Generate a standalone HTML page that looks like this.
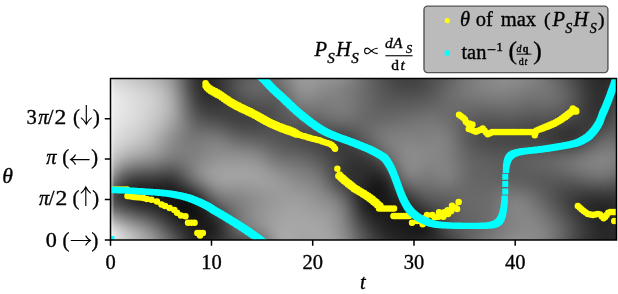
<!DOCTYPE html>
<html><head><meta charset="utf-8"><style>
html,body{margin:0;padding:0;background:#fff;width:618px;height:294px;overflow:hidden;position:relative}
svg{display:block;position:absolute;left:0;top:0;will-change:transform}
#hc{position:absolute;left:111px;top:79px;width:505px;height:161px;overflow:hidden}
#hi{position:absolute;left:-7px;top:-7px;width:520px;height:176px;display:flex;filter:blur(1.6px)}
#hi i{display:block;flex:0 0 4px;height:100%}
text{font-family:"Liberation Serif",serif;stroke:#000;stroke-width:0.35px}
</style></head><body>
<div id="hc"><div id="hi"><i style="background:linear-gradient(#d7d7d7 0px,#d7d7d7 6px,#dfdfdf 12px,#e8e8e8 18px,#ededed 24px,#efefef 30px,#eeeeee 36px,#ededed 42px,#ebebeb 48px,#e8e8e8 54px,#e5e5e5 60px,#e2e2e2 66px,#dddddd 72px,#d6d6d6 78px,#cdcdcd 84px,#c2c2c2 90px,#b2b2b2 96px,#9f9f9f 102px,#888888 108px,#6e6e6e 114px,#585858 120px,#505050 126px,#5a5a5a 132px,#747474 138px,#989898 144px,#bcbcbc 150px,#dadada 156px,#ececec 162px,#ebebeb 168px,#ebebeb 174px)"></i><i style="background:linear-gradient(#d7d7d7 0px,#d7d7d7 6px,#dfdfdf 12px,#e8e8e8 18px,#ededed 24px,#efefef 30px,#eeeeee 36px,#ededed 42px,#ebebeb 48px,#e8e8e8 54px,#e5e5e5 60px,#e2e2e2 66px,#dddddd 72px,#d6d6d6 78px,#cdcdcd 84px,#c2c2c2 90px,#b2b2b2 96px,#9f9f9f 102px,#888888 108px,#6e6e6e 114px,#585858 120px,#505050 126px,#5a5a5a 132px,#747474 138px,#989898 144px,#bcbcbc 150px,#dadada 156px,#ececec 162px,#ebebeb 168px,#ebebeb 174px)"></i><i style="background:linear-gradient(#d5d5d5 0px,#d5d5d5 6px,#dddddd 12px,#e5e5e5 18px,#eaeaea 24px,#ececec 30px,#ececec 36px,#ebebeb 42px,#e9e9e9 48px,#e6e6e6 54px,#e3e3e3 60px,#dfdfdf 66px,#dadada 72px,#d2d2d2 78px,#c8c8c8 84px,#bababa 90px,#a8a8a8 96px,#939393 102px,#7b7b7b 108px,#636363 114px,#505050 120px,#494949 126px,#555555 132px,#6f6f6f 138px,#929292 144px,#b6b6b6 150px,#d4d4d4 156px,#e6e6e6 162px,#e6e6e6 168px,#e6e6e6 174px)"></i><i style="background:linear-gradient(#d2d2d2 0px,#d2d2d2 6px,#d9d9d9 12px,#e1e1e1 18px,#e6e6e6 24px,#e9e9e9 30px,#e9e9e9 36px,#e8e8e8 42px,#e5e5e5 48px,#e3e3e3 54px,#dfdfdf 60px,#dadada 66px,#d4d4d4 72px,#cbcbcb 78px,#bfbfbf 84px,#aeaeae 90px,#989898 96px,#808080 102px,#676767 108px,#515151 114px,#414141 120px,#3e3e3e 126px,#4c4c4c 132px,#666666 138px,#888888 144px,#aaaaaa 150px,#c8c8c8 156px,#dadada 162px,#dddddd 168px,#dddddd 174px)"></i><i style="background:linear-gradient(#cfcfcf 0px,#cfcfcf 6px,#d6d6d6 12px,#dedede 18px,#e3e3e3 24px,#e5e5e5 30px,#e6e6e6 36px,#e4e4e4 42px,#e2e2e2 48px,#dfdfdf 54px,#dbdbdb 60px,#d6d6d6 66px,#cfcfcf 72px,#c5c5c5 78px,#b7b7b7 84px,#a3a3a3 90px,#8b8b8b 96px,#707070 102px,#575757 108px,#424242 114px,#363636 120px,#353535 126px,#444444 132px,#5e5e5e 138px,#7e7e7e 144px,#a0a0a0 150px,#bdbdbd 156px,#d0d0d0 162px,#d5d5d5 168px,#d5d5d5 174px)"></i><i style="background:linear-gradient(#cccccc 0px,#cccccc 6px,#d3d3d3 12px,#dbdbdb 18px,#e0e0e0 24px,#e2e2e2 30px,#e3e3e3 36px,#e1e1e1 42px,#dfdfdf 48px,#dcdcdc 54px,#d8d8d8 60px,#d3d3d3 66px,#cbcbcb 72px,#c0c0c0 78px,#b1b1b1 84px,#9b9b9b 90px,#818181 96px,#656565 102px,#4c4c4c 108px,#383838 114px,#2d2d2d 120px,#2e2e2e 126px,#3d3d3d 132px,#565656 138px,#767676 144px,#979797 150px,#b4b4b4 156px,#c7c7c7 162px,#cdcdcd 168px,#cdcdcd 174px)"></i><i style="background:linear-gradient(#c9c9c9 0px,#c9c9c9 6px,#d0d0d0 12px,#d8d8d8 18px,#dddddd 24px,#e0e0e0 30px,#e0e0e0 36px,#dfdfdf 42px,#dcdcdc 48px,#d9d9d9 54px,#d5d5d5 60px,#cfcfcf 66px,#c7c7c7 72px,#bcbcbc 78px,#acacac 84px,#959595 90px,#7a7a7a 96px,#5d5d5d 102px,#444444 108px,#303030 114px,#262626 120px,#282828 126px,#373737 132px,#505050 138px,#6f6f6f 144px,#8f8f8f 150px,#ababab 156px,#bebebe 162px,#c5c5c5 168px,#c5c5c5 174px)"></i><i style="background:linear-gradient(#c6c6c6 0px,#c6c6c6 6px,#cdcdcd 12px,#d6d6d6 18px,#dbdbdb 24px,#dddddd 30px,#dddddd 36px,#dcdcdc 42px,#d9d9d9 48px,#d6d6d6 54px,#d2d2d2 60px,#cccccc 66px,#c3c3c3 72px,#b8b8b8 78px,#a7a7a7 84px,#909090 90px,#757575 96px,#585858 102px,#3e3e3e 108px,#2c2c2c 114px,#222222 120px,#232323 126px,#313131 132px,#4a4a4a 138px,#686868 144px,#878787 150px,#a3a3a3 156px,#b6b6b6 162px,#bdbdbd 168px,#bdbdbd 174px)"></i><i style="background:linear-gradient(#c3c3c3 0px,#c3c3c3 6px,#cbcbcb 12px,#d3d3d3 18px,#d8d8d8 24px,#dadada 30px,#dadada 36px,#d9d9d9 42px,#d6d6d6 48px,#d3d3d3 54px,#cecece 60px,#c8c8c8 66px,#c0c0c0 72px,#b4b4b4 78px,#a3a3a3 84px,#8d8d8d 90px,#717171 96px,#555555 102px,#3c3c3c 108px,#292929 114px,#1f1f1f 120px,#1f1f1f 126px,#2d2d2d 132px,#444444 138px,#616161 144px,#808080 150px,#9b9b9b 156px,#aeaeae 162px,#b6b6b6 168px,#b6b6b6 174px)"></i><i style="background:linear-gradient(#c0c0c0 0px,#c0c0c0 6px,#c8c8c8 12px,#d0d0d0 18px,#d5d5d5 24px,#d7d7d7 30px,#d7d7d7 36px,#d6d6d6 42px,#d3d3d3 48px,#cfcfcf 54px,#cacaca 60px,#c4c4c4 66px,#bbbbbb 72px,#b0b0b0 78px,#a0a0a0 84px,#8a8a8a 90px,#6f6f6f 96px,#535353 102px,#3a3a3a 108px,#272727 114px,#1d1d1d 120px,#1d1d1d 126px,#292929 132px,#3f3f3f 138px,#5b5b5b 144px,#787878 150px,#929292 156px,#a6a6a6 162px,#aeaeae 168px,#aeaeae 174px)"></i><i style="background:linear-gradient(#bdbdbd 0px,#bdbdbd 6px,#c5c5c5 12px,#cdcdcd 18px,#d2d2d2 24px,#d4d4d4 30px,#d4d4d4 36px,#d2d2d2 42px,#cfcfcf 48px,#cbcbcb 54px,#c6c6c6 60px,#bfbfbf 66px,#b7b7b7 72px,#acacac 78px,#9c9c9c 84px,#878787 90px,#6d6d6d 96px,#525252 102px,#393939 108px,#272727 114px,#1c1c1c 120px,#1b1b1b 126px,#262626 132px,#3a3a3a 138px,#555555 144px,#707070 150px,#8a8a8a 156px,#9d9d9d 162px,#a6a6a6 168px,#a6a6a6 174px)"></i><i style="background:linear-gradient(#b9b9b9 0px,#b9b9b9 6px,#c1c1c1 12px,#cacaca 18px,#cfcfcf 24px,#d1d1d1 30px,#d1d1d1 36px,#cecece 42px,#cbcbcb 48px,#c6c6c6 54px,#c1c1c1 60px,#bababa 66px,#b2b2b2 72px,#a7a7a7 78px,#989898 84px,#848484 90px,#6b6b6b 96px,#515151 102px,#393939 108px,#262626 114px,#1b1b1b 120px,#191919 126px,#232323 132px,#363636 138px,#4e4e4e 144px,#686868 150px,#818181 156px,#949494 162px,#9d9d9d 168px,#9d9d9d 174px)"></i><i style="background:linear-gradient(#b5b5b5 0px,#b5b5b5 6px,#bdbdbd 12px,#c5c5c5 18px,#cacaca 24px,#cdcdcd 30px,#cccccc 36px,#cacaca 42px,#c6c6c6 48px,#c1c1c1 54px,#bbbbbb 60px,#b4b4b4 66px,#acacac 72px,#a2a2a2 78px,#949494 84px,#818181 90px,#696969 96px,#4f4f4f 102px,#383838 108px,#262626 114px,#1a1a1a 120px,#181818 126px,#202020 132px,#313131 138px,#474747 144px,#5f5f5f 150px,#767676 156px,#898989 162px,#949494 168px,#949494 174px)"></i><i style="background:linear-gradient(#b0b0b0 0px,#b0b0b0 6px,#b8b8b8 12px,#c0c0c0 18px,#c5c5c5 24px,#c8c8c8 30px,#c7c7c7 36px,#c5c5c5 42px,#c1c1c1 48px,#bbbbbb 54px,#b4b4b4 60px,#acacac 66px,#a5a5a5 72px,#9c9c9c 78px,#8f8f8f 84px,#7d7d7d 90px,#666666 96px,#4d4d4d 102px,#363636 108px,#252525 114px,#1a1a1a 120px,#171717 126px,#1e1e1e 132px,#2c2c2c 138px,#3f3f3f 144px,#555555 150px,#6b6b6b 156px,#7e7e7e 162px,#898989 168px,#898989 174px)"></i><i style="background:linear-gradient(#aaaaaa 0px,#aaaaaa 6px,#b1b1b1 12px,#bababa 18px,#bfbfbf 24px,#c1c1c1 30px,#c1c1c1 36px,#bfbfbf 42px,#bababa 48px,#b4b4b4 54px,#acacac 60px,#a4a4a4 66px,#9d9d9d 72px,#959595 78px,#8a8a8a 84px,#787878 90px,#626262 96px,#4b4b4b 102px,#353535 108px,#242424 114px,#191919 120px,#161616 126px,#1b1b1b 132px,#272727 138px,#383838 144px,#4b4b4b 150px,#5f5f5f 156px,#727272 162px,#7e7e7e 168px,#7e7e7e 174px)"></i><i style="background:linear-gradient(#a3a3a3 0px,#a3a3a3 6px,#a9a9a9 12px,#b1b1b1 18px,#b6b6b6 24px,#b9b9b9 30px,#bababa 36px,#b7b7b7 42px,#b3b3b3 48px,#acacac 54px,#a4a4a4 60px,#9c9c9c 66px,#969696 72px,#8f8f8f 78px,#858585 84px,#757575 90px,#606060 96px,#494949 102px,#343434 108px,#242424 114px,#191919 120px,#151515 126px,#191919 132px,#222222 138px,#303030 144px,#414141 150px,#535353 156px,#656565 162px,#737373 168px,#737373 174px)"></i><i style="background:linear-gradient(#999999 0px,#999999 6px,#9f9f9f 12px,#a6a6a6 18px,#acacac 24px,#afafaf 30px,#b0b0b0 36px,#aeaeae 42px,#aaaaaa 48px,#a3a3a3 54px,#9b9b9b 60px,#949494 66px,#8f8f8f 72px,#898989 78px,#808080 84px,#727272 90px,#5f5f5f 96px,#494949 102px,#353535 108px,#252525 114px,#1a1a1a 120px,#151515 126px,#161616 132px,#1d1d1d 138px,#292929 144px,#373737 150px,#484848 156px,#595959 162px,#676767 168px,#676767 174px)"></i><i style="background:linear-gradient(#8c8c8c 0px,#8c8c8c 6px,#919191 12px,#989898 18px,#9e9e9e 24px,#a2a2a2 30px,#a3a3a3 36px,#a3a3a3 42px,#9f9f9f 48px,#9a9a9a 54px,#939393 60px,#8d8d8d 66px,#888888 72px,#848484 78px,#7d7d7d 84px,#717171 90px,#606060 96px,#4c4c4c 102px,#393939 108px,#282828 114px,#1c1c1c 120px,#151515 126px,#141414 132px,#191919 138px,#222222 144px,#2f2f2f 150px,#3d3d3d 156px,#4d4d4d 162px,#5a5a5a 168px,#5a5a5a 174px)"></i><i style="background:linear-gradient(#7c7c7c 0px,#7c7c7c 6px,#818181 12px,#888888 18px,#8d8d8d 24px,#919191 30px,#949494 36px,#959595 42px,#939393 48px,#8f8f8f 54px,#8b8b8b 60px,#868686 66px,#838383 72px,#818181 78px,#7c7c7c 84px,#727272 90px,#646464 96px,#525252 102px,#404040 108px,#2e2e2e 114px,#1f1f1f 120px,#151515 126px,#111111 132px,#141414 138px,#1c1c1c 144px,#282828 150px,#353535 156px,#424242 162px,#4d4d4d 168px,#4d4d4d 174px)"></i><i style="background:linear-gradient(#6b6b6b 0px,#6b6b6b 6px,#6f6f6f 12px,#757575 18px,#7b7b7b 24px,#7f7f7f 30px,#838383 36px,#868686 42px,#868686 48px,#858585 54px,#838383 60px,#818181 66px,#808080 72px,#7f7f7f 78px,#7b7b7b 84px,#757575 90px,#6a6a6a 96px,#5b5b5b 102px,#494949 108px,#363636 114px,#232323 120px,#161616 126px,#101010 132px,#111111 138px,#181818 144px,#222222 150px,#2e2e2e 156px,#393939 162px,#404040 168px,#404040 174px)"></i><i style="background:linear-gradient(#595959 0px,#595959 6px,#5c5c5c 12px,#626262 18px,#686868 24px,#6d6d6d 30px,#727272 36px,#767676 42px,#797979 48px,#7b7b7b 54px,#7c7c7c 60px,#7c7c7c 66px,#7d7d7d 72px,#7e7e7e 78px,#7c7c7c 84px,#787878 90px,#717171 96px,#666666 102px,#555555 108px,#3f3f3f 114px,#292929 120px,#181818 126px,#0f0f0f 132px,#0f0f0f 138px,#151515 144px,#1e1e1e 150px,#282828 156px,#303030 162px,#353535 168px,#353535 174px)"></i><i style="background:linear-gradient(#484848 0px,#484848 6px,#4b4b4b 12px,#505050 18px,#565656 24px,#5c5c5c 30px,#626262 36px,#676767 42px,#6d6d6d 48px,#727272 54px,#767676 60px,#797979 66px,#7c7c7c 72px,#7e7e7e 78px,#7e7e7e 84px,#7d7d7d 90px,#797979 96px,#717171 102px,#616161 108px,#4a4a4a 114px,#313131 120px,#1c1c1c 126px,#111111 132px,#0f0f0f 138px,#131313 144px,#1b1b1b 150px,#232323 156px,#292929 162px,#2b2b2b 168px,#2b2b2b 174px)"></i><i style="background:linear-gradient(#3a3a3a 0px,#3a3a3a 6px,#3c3c3c 12px,#414141 18px,#464646 24px,#4d4d4d 30px,#535353 36px,#5b5b5b 42px,#636363 48px,#6a6a6a 54px,#717171 60px,#777777 66px,#7c7c7c 72px,#7e7e7e 78px,#808080 84px,#828282 90px,#818181 96px,#7b7b7b 102px,#6d6d6d 108px,#565656 114px,#3b3b3b 120px,#242424 126px,#161616 132px,#121212 138px,#131313 144px,#191919 150px,#1f1f1f 156px,#242424 162px,#242424 168px,#242424 174px)"></i><i style="background:linear-gradient(#303030 0px,#303030 6px,#323232 12px,#363636 18px,#3b3b3b 24px,#414141 30px,#494949 36px,#515151 42px,#5b5b5b 48px,#656565 54px,#6f6f6f 60px,#777777 66px,#7c7c7c 72px,#808080 78px,#838383 84px,#868686 90px,#888888 96px,#858585 102px,#787878 108px,#626262 114px,#474747 120px,#2e2e2e 126px,#1e1e1e 132px,#171717 138px,#161616 144px,#181818 150px,#1d1d1d 156px,#202020 162px,#212121 168px,#212121 174px)"></i><i style="background:linear-gradient(#2a2a2a 0px,#2a2a2a 6px,#2b2b2b 12px,#2f2f2f 18px,#333333 24px,#3a3a3a 30px,#414141 36px,#4b4b4b 42px,#565656 48px,#626262 54px,#6d6d6d 60px,#777777 66px,#7e7e7e 72px,#828282 78px,#868686 84px,#8a8a8a 90px,#8e8e8e 96px,#8d8d8d 102px,#838383 108px,#6e6e6e 114px,#545454 120px,#3b3b3b 126px,#292929 132px,#1f1f1f 138px,#1a1a1a 144px,#191919 150px,#1b1b1b 156px,#1e1e1e 162px,#202020 168px,#202020 174px)"></i><i style="background:linear-gradient(#282828 0px,#282828 6px,#292929 12px,#2b2b2b 18px,#2f2f2f 24px,#353535 30px,#3d3d3d 36px,#464646 42px,#525252 48px,#5f5f5f 54px,#6d6d6d 60px,#787878 66px,#808080 72px,#858585 78px,#898989 84px,#8e8e8e 90px,#939393 96px,#949494 102px,#8c8c8c 108px,#7a7a7a 114px,#626262 120px,#4a4a4a 126px,#363636 132px,#282828 138px,#202020 144px,#1b1b1b 150px,#1b1b1b 156px,#1e1e1e 162px,#222222 168px,#222222 174px)"></i><i style="background:linear-gradient(#292929 0px,#292929 6px,#292929 12px,#2b2b2b 18px,#2e2e2e 24px,#333333 30px,#3a3a3a 36px,#444444 42px,#505050 48px,#5e5e5e 54px,#6c6c6c 60px,#797979 66px,#818181 72px,#878787 78px,#8c8c8c 84px,#919191 90px,#979797 96px,#999999 102px,#939393 108px,#848484 114px,#6f6f6f 120px,#585858 126px,#444444 132px,#333333 138px,#272727 144px,#202020 150px,#1d1d1d 156px,#202020 162px,#262626 168px,#262626 174px)"></i><i style="background:linear-gradient(#2c2c2c 0px,#2c2c2c 6px,#2c2c2c 12px,#2e2e2e 18px,#303030 24px,#343434 30px,#3a3a3a 36px,#424242 42px,#4e4e4e 48px,#5c5c5c 54px,#6b6b6b 60px,#787878 66px,#828282 72px,#888888 78px,#8e8e8e 84px,#949494 90px,#9a9a9a 96px,#9d9d9d 102px,#999999 108px,#8c8c8c 114px,#7a7a7a 120px,#656565 126px,#505050 132px,#3f3f3f 138px,#303030 144px,#262626 150px,#222222 156px,#242424 162px,#2c2c2c 168px,#2c2c2c 174px)"></i><i style="background:linear-gradient(#313131 0px,#313131 6px,#313131 12px,#323232 18px,#333333 24px,#353535 30px,#3a3a3a 36px,#414141 42px,#4c4c4c 48px,#5a5a5a 54px,#696969 60px,#777777 66px,#818181 72px,#898989 78px,#8f8f8f 84px,#969696 90px,#9c9c9c 96px,#9f9f9f 102px,#9c9c9c 108px,#929292 114px,#828282 120px,#6f6f6f 126px,#5b5b5b 132px,#4a4a4a 138px,#3b3b3b 144px,#303030 150px,#2a2a2a 156px,#2b2b2b 162px,#313131 168px,#313131 174px)"></i><i style="background:linear-gradient(#373737 0px,#373737 6px,#383838 12px,#383838 18px,#383838 24px,#383838 30px,#3b3b3b 36px,#404040 42px,#494949 48px,#575757 54px,#666666 60px,#747474 66px,#808080 72px,#888888 78px,#909090 84px,#979797 90px,#9e9e9e 96px,#a1a1a1 102px,#9f9f9f 108px,#959595 114px,#878787 120px,#767676 126px,#656565 132px,#545454 138px,#464646 144px,#3b3b3b 150px,#353535 156px,#343434 162px,#373737 168px,#373737 174px)"></i><i style="background:linear-gradient(#3d3d3d 0px,#3d3d3d 6px,#3f3f3f 12px,#3f3f3f 18px,#3d3d3d 24px,#3c3c3c 30px,#3c3c3c 36px,#3f3f3f 42px,#474747 48px,#535353 54px,#626262 60px,#717171 66px,#7d7d7d 72px,#878787 78px,#909090 84px,#989898 90px,#9e9e9e 96px,#a2a2a2 102px,#9f9f9f 108px,#979797 114px,#8a8a8a 120px,#7b7b7b 126px,#6c6c6c 132px,#5e5e5e 138px,#525252 144px,#484848 150px,#414141 156px,#3d3d3d 162px,#3d3d3d 168px,#3d3d3d 174px)"></i><i style="background:linear-gradient(#444444 0px,#444444 6px,#464646 12px,#464646 18px,#444444 24px,#404040 30px,#3e3e3e 36px,#3f3f3f 42px,#454545 48px,#505050 54px,#5e5e5e 60px,#6d6d6d 66px,#7a7a7a 72px,#868686 78px,#909090 84px,#989898 90px,#9f9f9f 96px,#a2a2a2 102px,#a0a0a0 108px,#989898 114px,#8c8c8c 120px,#7f7f7f 126px,#737373 132px,#686868 138px,#5e5e5e 144px,#565656 150px,#4e4e4e 156px,#484848 162px,#434343 168px,#434343 174px)"></i><i style="background:linear-gradient(#4b4b4b 0px,#4b4b4b 6px,#4e4e4e 12px,#4d4d4d 18px,#4a4a4a 24px,#454545 30px,#404040 36px,#3f3f3f 42px,#434343 48px,#4c4c4c 54px,#5a5a5a 60px,#696969 66px,#777777 72px,#848484 78px,#8f8f8f 84px,#989898 90px,#9f9f9f 96px,#a2a2a2 102px,#9f9f9f 108px,#989898 114px,#8d8d8d 120px,#828282 126px,#787878 132px,#707070 138px,#696969 144px,#626262 150px,#5b5b5b 156px,#515151 162px,#484848 168px,#484848 174px)"></i><i style="background:linear-gradient(#515151 0px,#515151 6px,#555555 12px,#545454 18px,#4f4f4f 24px,#494949 30px,#434343 36px,#404040 42px,#424242 48px,#4a4a4a 54px,#575757 60px,#666666 66px,#757575 72px,#838383 78px,#8f8f8f 84px,#989898 90px,#9f9f9f 96px,#a2a2a2 102px,#9f9f9f 108px,#989898 114px,#8e8e8e 120px,#848484 126px,#7d7d7d 132px,#787878 138px,#737373 144px,#6e6e6e 150px,#666666 156px,#5a5a5a 162px,#4c4c4c 168px,#4c4c4c 174px)"></i><i style="background:linear-gradient(#575757 0px,#575757 6px,#5a5a5a 12px,#5a5a5a 18px,#545454 24px,#4d4d4d 30px,#454545 36px,#404040 42px,#414141 48px,#484848 54px,#545454 60px,#636363 66px,#727272 72px,#818181 78px,#8e8e8e 84px,#989898 90px,#9f9f9f 96px,#a2a2a2 102px,#9f9f9f 108px,#989898 114px,#8f8f8f 120px,#878787 126px,#818181 132px,#7e7e7e 138px,#7b7b7b 144px,#777777 150px,#6f6f6f 156px,#616161 162px,#4f4f4f 168px,#4f4f4f 174px)"></i><i style="background:linear-gradient(#5b5b5b 0px,#5b5b5b 6px,#5f5f5f 12px,#5e5e5e 18px,#585858 24px,#505050 30px,#474747 36px,#414141 42px,#414141 48px,#474747 54px,#535353 60px,#616161 66px,#717171 72px,#808080 78px,#8d8d8d 84px,#989898 90px,#9f9f9f 96px,#a2a2a2 102px,#a0a0a0 108px,#999999 114px,#919191 120px,#898989 126px,#868686 132px,#848484 138px,#828282 144px,#7f7f7f 150px,#767676 156px,#666666 162px,#525252 168px,#525252 174px)"></i><i style="background:linear-gradient(#5f5f5f 0px,#5f5f5f 6px,#636363 12px,#626262 18px,#5b5b5b 24px,#525252 30px,#494949 36px,#434343 42px,#414141 48px,#474747 54px,#525252 60px,#5f5f5f 66px,#6f6f6f 72px,#7e7e7e 78px,#8b8b8b 84px,#969696 90px,#9e9e9e 96px,#a1a1a1 102px,#a0a0a0 108px,#9a9a9a 114px,#939393 120px,#8c8c8c 126px,#898989 132px,#898989 138px,#888888 144px,#858585 150px,#7c7c7c 156px,#6c6c6c 162px,#565656 168px,#565656 174px)"></i><i style="background:linear-gradient(#626262 0px,#626262 6px,#656565 12px,#646464 18px,#5d5d5d 24px,#545454 30px,#4b4b4b 36px,#444444 42px,#424242 48px,#474747 54px,#515151 60px,#5e5e5e 66px,#6d6d6d 72px,#7c7c7c 78px,#898989 84px,#949494 90px,#9c9c9c 96px,#a1a1a1 102px,#a0a0a0 108px,#9b9b9b 114px,#949494 120px,#8f8f8f 126px,#8d8d8d 132px,#8d8d8d 138px,#8d8d8d 144px,#8a8a8a 150px,#828282 156px,#727272 162px,#5c5c5c 168px,#5c5c5c 174px)"></i><i style="background:linear-gradient(#646464 0px,#646464 6px,#676767 12px,#656565 18px,#5e5e5e 24px,#555555 30px,#4d4d4d 36px,#464646 42px,#444444 48px,#484848 54px,#515151 60px,#5d5d5d 66px,#6a6a6a 72px,#797979 78px,#868686 84px,#919191 90px,#9a9a9a 96px,#9f9f9f 102px,#a0a0a0 108px,#9c9c9c 114px,#969696 120px,#919191 126px,#909090 132px,#919191 138px,#929292 144px,#8f8f8f 150px,#888888 156px,#797979 162px,#646464 168px,#646464 174px)"></i><i style="background:linear-gradient(#666666 0px,#666666 6px,#676767 12px,#646464 18px,#5e5e5e 24px,#565656 30px,#4e4e4e 36px,#484848 42px,#464646 48px,#494949 54px,#515151 60px,#5b5b5b 66px,#686868 72px,#757575 78px,#828282 84px,#8d8d8d 90px,#979797 96px,#9d9d9d 102px,#9f9f9f 108px,#9c9c9c 114px,#989898 120px,#949494 126px,#939393 132px,#949494 138px,#959595 144px,#949494 150px,#8e8e8e 156px,#818181 162px,#6f6f6f 168px,#6f6f6f 174px)"></i><i style="background:linear-gradient(#686868 0px,#686868 6px,#676767 12px,#646464 18px,#5d5d5d 24px,#565656 30px,#4f4f4f 36px,#4a4a4a 42px,#494949 48px,#4b4b4b 54px,#515151 60px,#5a5a5a 66px,#656565 72px,#707070 78px,#7d7d7d 84px,#888888 90px,#939393 96px,#9a9a9a 102px,#9e9e9e 108px,#9d9d9d 114px,#999999 120px,#969696 126px,#969696 132px,#979797 138px,#999999 144px,#999999 150px,#949494 156px,#8a8a8a 162px,#7c7c7c 168px,#7c7c7c 174px)"></i><i style="background:linear-gradient(#6a6a6a 0px,#6a6a6a 6px,#686868 12px,#636363 18px,#5d5d5d 24px,#575757 30px,#515151 36px,#4d4d4d 42px,#4b4b4b 48px,#4d4d4d 54px,#515151 60px,#585858 66px,#616161 72px,#6c6c6c 78px,#777777 84px,#838383 90px,#8e8e8e 96px,#979797 102px,#9c9c9c 108px,#9c9c9c 114px,#9a9a9a 120px,#989898 126px,#989898 132px,#9a9a9a 138px,#9c9c9c 144px,#9c9c9c 150px,#9a9a9a 156px,#949494 162px,#8a8a8a 168px,#8a8a8a 174px)"></i><i style="background:linear-gradient(#6d6d6d 0px,#6d6d6d 6px,#6a6a6a 12px,#646464 18px,#5e5e5e 24px,#585858 30px,#535353 36px,#505050 42px,#4e4e4e 48px,#4f4f4f 54px,#515151 60px,#575757 66px,#5e5e5e 72px,#676767 78px,#727272 84px,#7e7e7e 90px,#8a8a8a 96px,#949494 102px,#9a9a9a 108px,#9c9c9c 114px,#9b9b9b 120px,#999999 126px,#9a9a9a 132px,#9c9c9c 138px,#9e9e9e 144px,#a0a0a0 150px,#a0a0a0 156px,#9c9c9c 162px,#969696 168px,#969696 174px)"></i><i style="background:linear-gradient(#727272 0px,#727272 6px,#6d6d6d 12px,#676767 18px,#616161 24px,#5b5b5b 30px,#575757 36px,#535353 42px,#515151 48px,#505050 54px,#515151 60px,#555555 66px,#5b5b5b 72px,#646464 78px,#6e6e6e 84px,#7a7a7a 90px,#868686 96px,#909090 102px,#989898 108px,#9a9a9a 114px,#9b9b9b 120px,#9b9b9b 126px,#9c9c9c 132px,#9e9e9e 138px,#a0a0a0 144px,#a3a3a3 150px,#a4a4a4 156px,#a3a3a3 162px,#a0a0a0 168px,#a0a0a0 174px)"></i><i style="background:linear-gradient(#787878 0px,#787878 6px,#737373 12px,#6c6c6c 18px,#666666 24px,#606060 30px,#5b5b5b 36px,#575757 42px,#545454 48px,#515151 54px,#515151 60px,#535353 66px,#585858 72px,#606060 78px,#6b6b6b 84px,#777777 90px,#838383 96px,#8d8d8d 102px,#959595 108px,#999999 114px,#9b9b9b 120px,#9c9c9c 126px,#9d9d9d 132px,#9f9f9f 138px,#a2a2a2 144px,#a4a4a4 150px,#a6a6a6 156px,#a7a7a7 162px,#a6a6a6 168px,#a6a6a6 174px)"></i><i style="background:linear-gradient(#7f7f7f 0px,#7f7f7f 6px,#7a7a7a 12px,#747474 18px,#6d6d6d 24px,#676767 30px,#616161 36px,#5b5b5b 42px,#565656 48px,#525252 54px,#505050 60px,#515151 66px,#565656 72px,#5e5e5e 78px,#696969 84px,#747474 90px,#808080 96px,#8a8a8a 102px,#929292 108px,#979797 114px,#9a9a9a 120px,#9c9c9c 126px,#9e9e9e 132px,#a1a1a1 138px,#a3a3a3 144px,#a5a5a5 150px,#a7a7a7 156px,#a8a8a8 162px,#a9a9a9 168px,#a9a9a9 174px)"></i><i style="background:linear-gradient(#878787 0px,#878787 6px,#838383 12px,#7c7c7c 18px,#757575 24px,#6e6e6e 30px,#676767 36px,#5f5f5f 42px,#595959 48px,#535353 54px,#4f4f4f 60px,#4f4f4f 66px,#535353 72px,#5c5c5c 78px,#676767 84px,#737373 90px,#7e7e7e 96px,#878787 102px,#8f8f8f 108px,#959595 114px,#999999 120px,#9c9c9c 126px,#9f9f9f 132px,#a2a2a2 138px,#a4a4a4 144px,#a6a6a6 150px,#a7a7a7 156px,#a9a9a9 162px,#a9a9a9 168px,#a9a9a9 174px)"></i><i style="background:linear-gradient(#8e8e8e 0px,#8e8e8e 6px,#8b8b8b 12px,#858585 18px,#7d7d7d 24px,#757575 30px,#6c6c6c 36px,#636363 42px,#5b5b5b 48px,#535353 54px,#4e4e4e 60px,#4d4d4d 66px,#525252 72px,#5b5b5b 78px,#666666 84px,#717171 90px,#7b7b7b 96px,#848484 102px,#8c8c8c 108px,#929292 114px,#979797 120px,#9c9c9c 126px,#9f9f9f 132px,#a2a2a2 138px,#a4a4a4 144px,#a6a6a6 150px,#a7a7a7 156px,#a8a8a8 162px,#a8a8a8 168px,#a8a8a8 174px)"></i><i style="background:linear-gradient(#949494 0px,#949494 6px,#919191 12px,#8c8c8c 18px,#848484 24px,#7b7b7b 30px,#717171 36px,#676767 42px,#5c5c5c 48px,#535353 54px,#4d4d4d 60px,#4b4b4b 66px,#505050 72px,#595959 78px,#646464 84px,#6f6f6f 90px,#797979 96px,#828282 102px,#898989 108px,#909090 114px,#969696 120px,#9b9b9b 126px,#9f9f9f 132px,#a2a2a2 138px,#a4a4a4 144px,#a6a6a6 150px,#a6a6a6 156px,#a6a6a6 162px,#a6a6a6 168px,#a6a6a6 174px)"></i><i style="background:linear-gradient(#989898 0px,#989898 6px,#969696 12px,#909090 18px,#888888 24px,#7f7f7f 30px,#747474 36px,#696969 42px,#5e5e5e 48px,#545454 54px,#4d4d4d 60px,#4a4a4a 66px,#4e4e4e 72px,#575757 78px,#626262 84px,#6d6d6d 90px,#777777 96px,#7f7f7f 102px,#878787 108px,#8e8e8e 114px,#949494 120px,#9a9a9a 126px,#9e9e9e 132px,#a1a1a1 138px,#a4a4a4 144px,#a5a5a5 150px,#a6a6a6 156px,#a6a6a6 162px,#a4a4a4 168px,#a4a4a4 174px)"></i><i style="background:linear-gradient(#999999 0px,#999999 6px,#979797 12px,#929292 18px,#8a8a8a 24px,#818181 30px,#767676 36px,#6b6b6b 42px,#5f5f5f 48px,#555555 54px,#4d4d4d 60px,#494949 66px,#4d4d4d 72px,#555555 78px,#5f5f5f 84px,#6a6a6a 90px,#747474 96px,#7d7d7d 102px,#858585 108px,#8c8c8c 114px,#929292 120px,#989898 126px,#9c9c9c 132px,#a0a0a0 138px,#a3a3a3 144px,#a5a5a5 150px,#a6a6a6 156px,#a6a6a6 162px,#a4a4a4 168px,#a4a4a4 174px)"></i><i style="background:linear-gradient(#9a9a9a 0px,#9a9a9a 6px,#979797 12px,#929292 18px,#8a8a8a 24px,#818181 30px,#777777 36px,#6c6c6c 42px,#606060 48px,#555555 54px,#4d4d4d 60px,#494949 66px,#4b4b4b 72px,#525252 78px,#5c5c5c 84px,#666666 90px,#717171 96px,#7a7a7a 102px,#828282 108px,#8a8a8a 114px,#909090 120px,#959595 126px,#9a9a9a 132px,#9f9f9f 138px,#a2a2a2 144px,#a5a5a5 150px,#a6a6a6 156px,#a6a6a6 162px,#a4a4a4 168px,#a4a4a4 174px)"></i><i style="background:linear-gradient(#999999 0px,#999999 6px,#969696 12px,#909090 18px,#898989 24px,#808080 30px,#777777 36px,#6c6c6c 42px,#616161 48px,#565656 54px,#4d4d4d 60px,#484848 66px,#494949 72px,#4f4f4f 78px,#585858 84px,#626262 90px,#6c6c6c 96px,#767676 102px,#7f7f7f 108px,#868686 114px,#8d8d8d 120px,#939393 126px,#989898 132px,#9d9d9d 138px,#a1a1a1 144px,#a4a4a4 150px,#a6a6a6 156px,#a6a6a6 162px,#a5a5a5 168px,#a5a5a5 174px)"></i><i style="background:linear-gradient(#979797 0px,#979797 6px,#939393 12px,#8d8d8d 18px,#878787 24px,#7f7f7f 30px,#777777 36px,#6d6d6d 42px,#636363 48px,#585858 54px,#4e4e4e 60px,#484848 66px,#474747 72px,#4c4c4c 78px,#545454 84px,#5d5d5d 90px,#676767 96px,#717171 102px,#7a7a7a 108px,#828282 114px,#898989 120px,#8f8f8f 126px,#959595 132px,#9b9b9b 138px,#9f9f9f 144px,#a3a3a3 150px,#a5a5a5 156px,#a6a6a6 162px,#a5a5a5 168px,#a5a5a5 174px)"></i><i style="background:linear-gradient(#969696 0px,#969696 6px,#919191 12px,#8b8b8b 18px,#858585 24px,#7e7e7e 30px,#777777 36px,#6f6f6f 42px,#656565 48px,#595959 54px,#4e4e4e 60px,#464646 66px,#454545 72px,#494949 78px,#505050 84px,#585858 90px,#616161 96px,#6a6a6a 102px,#727272 108px,#7b7b7b 114px,#848484 120px,#8c8c8c 126px,#939393 132px,#999999 138px,#9e9e9e 144px,#a1a1a1 150px,#a4a4a4 156px,#a5a5a5 162px,#a5a5a5 168px,#a5a5a5 174px)"></i><i style="background:linear-gradient(#959595 0px,#959595 6px,#8f8f8f 12px,#898989 18px,#838383 24px,#7e7e7e 30px,#797979 36px,#717171 42px,#676767 48px,#5a5a5a 54px,#4d4d4d 60px,#454545 66px,#424242 72px,#454545 78px,#4b4b4b 84px,#525252 90px,#595959 96px,#606060 102px,#696969 108px,#737373 114px,#7e7e7e 120px,#888888 126px,#909090 132px,#969696 138px,#9b9b9b 144px,#9f9f9f 150px,#a1a1a1 156px,#a3a3a3 162px,#a4a4a4 168px,#a4a4a4 174px)"></i><i style="background:linear-gradient(#939393 0px,#939393 6px,#8d8d8d 12px,#878787 18px,#828282 24px,#7e7e7e 30px,#7a7a7a 36px,#737373 42px,#696969 48px,#5b5b5b 54px,#4d4d4d 60px,#434343 66px,#404040 72px,#424242 78px,#474747 84px,#4c4c4c 90px,#515151 96px,#565656 102px,#5e5e5e 108px,#6a6a6a 114px,#777777 120px,#838383 126px,#8c8c8c 132px,#939393 138px,#989898 144px,#9b9b9b 150px,#9e9e9e 156px,#a0a0a0 162px,#a2a2a2 168px,#a2a2a2 174px)"></i><i style="background:linear-gradient(#929292 0px,#929292 6px,#8b8b8b 12px,#858585 18px,#818181 24px,#7e7e7e 30px,#7b7b7b 36px,#757575 42px,#6b6b6b 48px,#5d5d5d 54px,#4d4d4d 60px,#424242 66px,#3d3d3d 72px,#3f3f3f 78px,#434343 84px,#474747 90px,#494949 96px,#4c4c4c 102px,#535353 108px,#5f5f5f 114px,#6e6e6e 120px,#7c7c7c 126px,#878787 132px,#8e8e8e 138px,#939393 144px,#969696 150px,#999999 156px,#9c9c9c 162px,#9f9f9f 168px,#9f9f9f 174px)"></i><i style="background:linear-gradient(#909090 0px,#909090 6px,#898989 12px,#838383 18px,#808080 24px,#7e7e7e 30px,#7c7c7c 36px,#777777 42px,#6d6d6d 48px,#5e5e5e 54px,#4e4e4e 60px,#414141 66px,#3c3c3c 72px,#3d3d3d 78px,#404040 84px,#414141 90px,#414141 96px,#424242 102px,#484848 108px,#555555 114px,#656565 120px,#747474 126px,#808080 132px,#878787 138px,#8c8c8c 144px,#909090 150px,#929292 156px,#969696 162px,#9a9a9a 168px,#9a9a9a 174px)"></i><i style="background:linear-gradient(#8d8d8d 0px,#8d8d8d 6px,#868686 12px,#808080 18px,#7e7e7e 24px,#7d7d7d 30px,#7c7c7c 36px,#777777 42px,#6e6e6e 48px,#5f5f5f 54px,#4f4f4f 60px,#424242 66px,#3c3c3c 72px,#3b3b3b 78px,#3d3d3d 84px,#3c3c3c 90px,#3a3a3a 96px,#3a3a3a 102px,#3f3f3f 108px,#4b4b4b 114px,#5b5b5b 120px,#6a6a6a 126px,#757575 132px,#7d7d7d 138px,#838383 144px,#878787 150px,#8a8a8a 156px,#8e8e8e 162px,#939393 168px,#939393 174px)"></i><i style="background:linear-gradient(#898989 0px,#898989 6px,#828282 12px,#7d7d7d 18px,#7c7c7c 24px,#7b7b7b 30px,#7a7a7a 36px,#767676 42px,#6e6e6e 48px,#606060 54px,#515151 60px,#454545 66px,#3d3d3d 72px,#3b3b3b 78px,#3a3a3a 84px,#383838 90px,#363636 96px,#353535 102px,#383838 108px,#424242 114px,#4f4f4f 120px,#5d5d5d 126px,#686868 132px,#707070 138px,#767676 144px,#7b7b7b 150px,#808080 156px,#858585 162px,#8a8a8a 168px,#8a8a8a 174px)"></i><i style="background:linear-gradient(#838383 0px,#838383 6px,#7e7e7e 12px,#7a7a7a 18px,#797979 24px,#787878 30px,#777777 36px,#747474 42px,#6d6d6d 48px,#626262 54px,#545454 60px,#494949 66px,#404040 72px,#3c3c3c 78px,#383838 84px,#353535 90px,#323232 96px,#313131 102px,#343434 108px,#3a3a3a 114px,#444444 120px,#4e4e4e 126px,#585858 132px,#606060 138px,#676767 144px,#6e6e6e 150px,#747474 156px,#7a7a7a 162px,#7f7f7f 168px,#7f7f7f 174px)"></i><i style="background:linear-gradient(#7d7d7d 0px,#7d7d7d 6px,#797979 12px,#767676 18px,#757575 24px,#757575 30px,#747474 36px,#717171 42px,#6c6c6c 48px,#636363 54px,#585858 60px,#4e4e4e 66px,#454545 72px,#3d3d3d 78px,#383838 84px,#333333 90px,#303030 96px,#2f2f2f 102px,#303030 108px,#333333 114px,#393939 120px,#3f3f3f 126px,#474747 132px,#4f4f4f 138px,#575757 144px,#5f5f5f 150px,#676767 156px,#6e6e6e 162px,#737373 168px,#737373 174px)"></i><i style="background:linear-gradient(#767676 0px,#767676 6px,#747474 12px,#727272 18px,#717171 24px,#717171 30px,#707070 36px,#6e6e6e 42px,#6a6a6a 48px,#646464 54px,#5d5d5d 60px,#545454 66px,#4a4a4a 72px,#404040 78px,#383838 84px,#333333 90px,#2f2f2f 96px,#2e2e2e 102px,#2d2d2d 108px,#2d2d2d 114px,#2e2e2e 120px,#313131 126px,#373737 132px,#3e3e3e 138px,#484848 144px,#515151 150px,#5a5a5a 156px,#626262 162px,#666666 168px,#666666 174px)"></i><i style="background:linear-gradient(#707070 0px,#707070 6px,#6f6f6f 12px,#6e6e6e 18px,#6d6d6d 24px,#6d6d6d 30px,#6c6c6c 36px,#6b6b6b 42px,#696969 48px,#666666 54px,#616161 60px,#5a5a5a 66px,#505050 72px,#454545 78px,#3b3b3b 84px,#333333 90px,#2f2f2f 96px,#2d2d2d 102px,#2a2a2a 108px,#272727 114px,#252525 120px,#252525 126px,#292929 132px,#303030 138px,#3a3a3a 144px,#444444 150px,#4e4e4e 156px,#565656 162px,#5b5b5b 168px,#5b5b5b 174px)"></i><i style="background:linear-gradient(#696969 0px,#696969 6px,#696969 12px,#696969 18px,#696969 24px,#696969 30px,#696969 36px,#686868 42px,#686868 48px,#686868 54px,#656565 60px,#606060 66px,#575757 72px,#4b4b4b 78px,#3f3f3f 84px,#353535 90px,#2f2f2f 96px,#2b2b2b 102px,#272727 108px,#222222 114px,#1e1e1e 120px,#1d1d1d 126px,#202020 132px,#262626 138px,#2f2f2f 144px,#393939 150px,#434343 156px,#4c4c4c 162px,#505050 168px,#505050 174px)"></i><i style="background:linear-gradient(#636363 0px,#636363 6px,#646464 12px,#646464 18px,#656565 24px,#656565 30px,#666666 36px,#676767 42px,#686868 48px,#6a6a6a 54px,#6a6a6a 60px,#666666 66px,#5e5e5e 72px,#525252 78px,#444444 84px,#393939 90px,#303030 96px,#292929 102px,#232323 108px,#1d1d1d 114px,#191919 120px,#181818 126px,#1a1a1a 132px,#202020 138px,#282828 144px,#313131 150px,#3a3a3a 156px,#424242 162px,#484848 168px,#484848 174px)"></i><i style="background:linear-gradient(#5d5d5d 0px,#5d5d5d 6px,#5e5e5e 12px,#606060 18px,#616161 24px,#626262 30px,#636363 36px,#656565 42px,#686868 48px,#6c6c6c 54px,#6e6e6e 60px,#6c6c6c 66px,#656565 72px,#595959 78px,#4c4c4c 84px,#3e3e3e 90px,#323232 96px,#282828 102px,#202020 108px,#1a1a1a 114px,#161616 120px,#151515 126px,#181818 132px,#1c1c1c 138px,#232323 144px,#2a2a2a 150px,#323232 156px,#3a3a3a 162px,#404040 168px,#404040 174px)"></i><i style="background:linear-gradient(#575757 0px,#575757 6px,#595959 12px,#5b5b5b 18px,#5d5d5d 24px,#5f5f5f 30px,#616161 36px,#656565 42px,#696969 48px,#6e6e6e 54px,#727272 60px,#727272 66px,#6c6c6c 72px,#616161 78px,#545454 84px,#454545 90px,#373737 96px,#2a2a2a 102px,#202020 108px,#191919 114px,#161616 120px,#161616 126px,#171717 132px,#1b1b1b 138px,#1f1f1f 144px,#252525 150px,#2c2c2c 156px,#333333 162px,#3a3a3a 168px,#3a3a3a 174px)"></i><i style="background:linear-gradient(#525252 0px,#525252 6px,#545454 12px,#575757 18px,#5a5a5a 24px,#5d5d5d 30px,#606060 36px,#646464 42px,#6a6a6a 48px,#707070 54px,#757575 60px,#767676 66px,#727272 72px,#696969 78px,#5d5d5d 84px,#4d4d4d 90px,#3d3d3d 96px,#2f2f2f 102px,#232323 108px,#1c1c1c 114px,#181818 120px,#181818 126px,#181818 132px,#1a1a1a 138px,#1d1d1d 144px,#212121 150px,#272727 156px,#2e2e2e 162px,#343434 168px,#343434 174px)"></i><i style="background:linear-gradient(#4e4e4e 0px,#4e4e4e 6px,#505050 12px,#545454 18px,#575757 24px,#5b5b5b 30px,#5f5f5f 36px,#646464 42px,#6a6a6a 48px,#717171 54px,#777777 60px,#7a7a7a 66px,#787878 72px,#717171 78px,#666666 84px,#575757 90px,#474747 96px,#383838 102px,#2b2b2b 108px,#222222 114px,#1d1d1d 120px,#1b1b1b 126px,#1a1a1a 132px,#1a1a1a 138px,#1c1c1c 144px,#1f1f1f 150px,#232323 156px,#292929 162px,#303030 168px,#303030 174px)"></i><i style="background:linear-gradient(#4a4a4a 0px,#4a4a4a 6px,#4c4c4c 12px,#515151 18px,#555555 24px,#5a5a5a 30px,#5f5f5f 36px,#656565 42px,#6b6b6b 48px,#737373 54px,#797979 60px,#7d7d7d 66px,#7c7c7c 72px,#777777 78px,#6f6f6f 84px,#626262 90px,#545454 96px,#454545 102px,#373737 108px,#2c2c2c 114px,#242424 120px,#1f1f1f 126px,#1b1b1b 132px,#1a1a1a 138px,#1a1a1a 144px,#1d1d1d 150px,#202020 156px,#262626 162px,#2c2c2c 168px,#2c2c2c 174px)"></i><i style="background:linear-gradient(#464646 0px,#464646 6px,#494949 12px,#4e4e4e 18px,#535353 24px,#595959 30px,#5f5f5f 36px,#656565 42px,#6c6c6c 48px,#747474 54px,#7a7a7a 60px,#7f7f7f 66px,#808080 72px,#7d7d7d 78px,#777777 84px,#6e6e6e 90px,#626262 96px,#545454 102px,#464646 108px,#393939 114px,#2d2d2d 120px,#242424 126px,#1e1e1e 132px,#1a1a1a 138px,#191919 144px,#1b1b1b 150px,#1e1e1e 156px,#232323 162px,#282828 168px,#282828 174px)"></i><i style="background:linear-gradient(#434343 0px,#434343 6px,#474747 12px,#4c4c4c 18px,#525252 24px,#595959 30px,#5f5f5f 36px,#666666 42px,#6d6d6d 48px,#757575 54px,#7b7b7b 60px,#808080 66px,#828282 72px,#828282 78px,#7e7e7e 84px,#787878 90px,#6f6f6f 96px,#636363 102px,#555555 108px,#464646 114px,#363636 120px,#292929 126px,#202020 132px,#1b1b1b 138px,#191919 144px,#1a1a1a 150px,#1d1d1d 156px,#212121 162px,#262626 168px,#262626 174px)"></i><i style="background:linear-gradient(#424242 0px,#424242 6px,#454545 12px,#4b4b4b 18px,#525252 24px,#595959 30px,#606060 36px,#676767 42px,#6e6e6e 48px,#757575 54px,#7c7c7c 60px,#818181 66px,#848484 72px,#858585 78px,#848484 84px,#818181 90px,#7a7a7a 96px,#717171 102px,#636363 108px,#525252 114px,#404040 120px,#303030 126px,#242424 132px,#1d1d1d 138px,#191919 144px,#191919 150px,#1c1c1c 156px,#202020 162px,#242424 168px,#242424 174px)"></i><i style="background:linear-gradient(#414141 0px,#414141 6px,#444444 12px,#4a4a4a 18px,#515151 24px,#595959 30px,#606060 36px,#686868 42px,#6f6f6f 48px,#767676 54px,#7c7c7c 60px,#818181 66px,#858585 72px,#888888 78px,#888888 84px,#878787 90px,#838383 96px,#7b7b7b 102px,#6e6e6e 108px,#5c5c5c 114px,#484848 120px,#363636 126px,#282828 132px,#1f1f1f 138px,#1a1a1a 144px,#191919 150px,#1a1a1a 156px,#1e1e1e 162px,#232323 168px,#232323 174px)"></i><i style="background:linear-gradient(#414141 0px,#414141 6px,#444444 12px,#4a4a4a 18px,#515151 24px,#595959 30px,#616161 36px,#696969 42px,#717171 48px,#777777 54px,#7d7d7d 60px,#818181 66px,#868686 72px,#898989 78px,#8a8a8a 84px,#8a8a8a 90px,#878787 96px,#808080 102px,#747474 108px,#636363 114px,#505050 120px,#3d3d3d 126px,#2e2e2e 132px,#232323 138px,#1c1c1c 144px,#191919 150px,#191919 156px,#1d1d1d 162px,#222222 168px,#222222 174px)"></i><i style="background:linear-gradient(#424242 0px,#424242 6px,#454545 12px,#4a4a4a 18px,#525252 24px,#5a5a5a 30px,#626262 36px,#6a6a6a 42px,#727272 48px,#787878 54px,#7d7d7d 60px,#818181 66px,#868686 72px,#898989 78px,#8b8b8b 84px,#8b8b8b 90px,#888888 96px,#828282 102px,#777777 108px,#686868 114px,#565656 120px,#444444 126px,#353535 132px,#282828 138px,#1f1f1f 144px,#191919 150px,#181818 156px,#1c1c1c 162px,#232323 168px,#232323 174px)"></i><i style="background:linear-gradient(#444444 0px,#444444 6px,#464646 12px,#4b4b4b 18px,#525252 24px,#5b5b5b 30px,#636363 36px,#6b6b6b 42px,#737373 48px,#797979 54px,#7d7d7d 60px,#818181 66px,#858585 72px,#888888 78px,#8a8a8a 84px,#8a8a8a 90px,#878787 96px,#818181 102px,#777777 108px,#6b6b6b 114px,#5b5b5b 120px,#4b4b4b 126px,#3c3c3c 132px,#2d2d2d 138px,#222222 144px,#1a1a1a 150px,#181818 156px,#1b1b1b 162px,#242424 168px,#242424 174px)"></i><i style="background:linear-gradient(#474747 0px,#474747 6px,#494949 12px,#4d4d4d 18px,#545454 24px,#5c5c5c 30px,#646464 36px,#6c6c6c 42px,#747474 48px,#797979 54px,#7e7e7e 60px,#818181 66px,#858585 72px,#888888 78px,#898989 84px,#888888 90px,#858585 96px,#7f7f7f 102px,#777777 108px,#6c6c6c 114px,#606060 120px,#515151 126px,#424242 132px,#333333 138px,#262626 144px,#1d1d1d 150px,#191919 156px,#1c1c1c 162px,#252525 168px,#252525 174px)"></i><i style="background:linear-gradient(#4a4a4a 0px,#4a4a4a 6px,#4b4b4b 12px,#505050 18px,#565656 24px,#5d5d5d 30px,#656565 36px,#6d6d6d 42px,#747474 48px,#797979 54px,#7e7e7e 60px,#818181 66px,#848484 72px,#878787 78px,#888888 84px,#878787 90px,#838383 96px,#7e7e7e 102px,#777777 108px,#6e6e6e 114px,#636363 120px,#565656 126px,#484848 132px,#393939 138px,#2c2c2c 144px,#222222 150px,#1d1d1d 156px,#1f1f1f 162px,#272727 168px,#272727 174px)"></i><i style="background:linear-gradient(#4e4e4e 0px,#4e4e4e 6px,#4f4f4f 12px,#535353 18px,#595959 24px,#5f5f5f 30px,#666666 36px,#6e6e6e 42px,#747474 48px,#7a7a7a 54px,#7e7e7e 60px,#828282 66px,#848484 72px,#868686 78px,#878787 84px,#858585 90px,#828282 96px,#7e7e7e 102px,#777777 108px,#6f6f6f 114px,#656565 120px,#5a5a5a 126px,#4d4d4d 132px,#3f3f3f 138px,#333333 144px,#292929 150px,#232323 156px,#242424 162px,#2a2a2a 168px,#2a2a2a 174px)"></i><i style="background:linear-gradient(#515151 0px,#515151 6px,#535353 12px,#575757 18px,#5c5c5c 24px,#626262 30px,#686868 36px,#6e6e6e 42px,#747474 48px,#797979 54px,#7e7e7e 60px,#828282 66px,#848484 72px,#868686 78px,#868686 84px,#858585 90px,#838383 96px,#7f7f7f 102px,#797979 108px,#717171 114px,#676767 120px,#5c5c5c 126px,#505050 132px,#454545 138px,#3a3a3a 144px,#313131 150px,#2c2c2c 156px,#2a2a2a 162px,#2d2d2d 168px,#2d2d2d 174px)"></i><i style="background:linear-gradient(#555555 0px,#555555 6px,#585858 12px,#5c5c5c 18px,#606060 24px,#646464 30px,#696969 36px,#6d6d6d 42px,#737373 48px,#787878 54px,#7e7e7e 60px,#828282 66px,#848484 72px,#858585 78px,#858585 84px,#848484 90px,#838383 96px,#808080 102px,#7b7b7b 108px,#737373 114px,#686868 120px,#5e5e5e 126px,#535353 132px,#4a4a4a 138px,#424242 144px,#3b3b3b 150px,#353535 156px,#323232 162px,#313131 168px,#313131 174px)"></i><i style="background:linear-gradient(#595959 0px,#595959 6px,#5d5d5d 12px,#616161 18px,#646464 24px,#676767 30px,#696969 36px,#6d6d6d 42px,#717171 48px,#777777 54px,#7c7c7c 60px,#808080 66px,#838383 72px,#838383 78px,#838383 84px,#838383 90px,#838383 96px,#818181 102px,#7c7c7c 108px,#747474 114px,#696969 120px,#5f5f5f 126px,#565656 132px,#4f4f4f 138px,#494949 144px,#444444 150px,#3f3f3f 156px,#3a3a3a 162px,#353535 168px,#353535 174px)"></i><i style="background:linear-gradient(#5e5e5e 0px,#5e5e5e 6px,#626262 12px,#656565 18px,#686868 24px,#696969 30px,#6a6a6a 36px,#6c6c6c 42px,#6f6f6f 48px,#747474 54px,#797979 60px,#7d7d7d 66px,#808080 72px,#808080 78px,#818181 84px,#818181 90px,#828282 96px,#818181 102px,#7c7c7c 108px,#747474 114px,#6a6a6a 120px,#606060 126px,#595959 132px,#545454 138px,#505050 144px,#4c4c4c 150px,#484848 156px,#424242 162px,#3b3b3b 168px,#3b3b3b 174px)"></i><i style="background:linear-gradient(#636363 0px,#636363 6px,#666666 12px,#6a6a6a 18px,#6b6b6b 24px,#6b6b6b 30px,#6b6b6b 36px,#6b6b6b 42px,#6d6d6d 48px,#707070 54px,#757575 60px,#797979 66px,#7b7b7b 72px,#7c7c7c 78px,#7d7d7d 84px,#7e7e7e 90px,#7f7f7f 96px,#7e7e7e 102px,#7b7b7b 108px,#737373 114px,#6a6a6a 120px,#626262 126px,#5c5c5c 132px,#585858 138px,#565656 144px,#535353 150px,#4f4f4f 156px,#494949 162px,#414141 168px,#414141 174px)"></i><i style="background:linear-gradient(#686868 0px,#686868 6px,#6b6b6b 12px,#6e6e6e 18px,#6e6e6e 24px,#6c6c6c 30px,#6b6b6b 36px,#696969 42px,#6a6a6a 48px,#6c6c6c 54px,#6f6f6f 60px,#727272 66px,#757575 72px,#777777 78px,#787878 84px,#797979 90px,#7b7b7b 96px,#7a7a7a 102px,#777777 108px,#717171 114px,#6a6a6a 120px,#636363 126px,#5f5f5f 132px,#5c5c5c 138px,#5b5b5b 144px,#595959 150px,#555555 156px,#4f4f4f 162px,#474747 168px,#474747 174px)"></i><i style="background:linear-gradient(#6d6d6d 0px,#6d6d6d 6px,#707070 12px,#717171 18px,#707070 24px,#6e6e6e 30px,#6b6b6b 36px,#686868 42px,#666666 48px,#676767 54px,#686868 60px,#6b6b6b 66px,#6e6e6e 72px,#707070 78px,#727272 84px,#747474 90px,#757575 96px,#757575 102px,#737373 108px,#6f6f6f 114px,#6a6a6a 120px,#656565 126px,#626262 132px,#606060 138px,#5f5f5f 144px,#5d5d5d 150px,#5a5a5a 156px,#545454 162px,#4e4e4e 168px,#4e4e4e 174px)"></i><i style="background:linear-gradient(#717171 0px,#717171 6px,#747474 12px,#757575 18px,#737373 24px,#6f6f6f 30px,#6a6a6a 36px,#666666 42px,#636363 48px,#626262 54px,#626262 60px,#646464 66px,#666666 72px,#6a6a6a 78px,#6d6d6d 84px,#6f6f6f 90px,#707070 96px,#707070 102px,#6f6f6f 108px,#6c6c6c 114px,#6a6a6a 120px,#676767 126px,#656565 132px,#636363 138px,#626262 144px,#606060 150px,#5d5d5d 156px,#595959 162px,#555555 168px,#555555 174px)"></i><i style="background:linear-gradient(#767676 0px,#767676 6px,#787878 12px,#787878 18px,#757575 24px,#707070 30px,#6a6a6a 36px,#646464 42px,#606060 48px,#5d5d5d 54px,#5c5c5c 60px,#5d5d5d 66px,#606060 72px,#646464 78px,#686868 84px,#6a6a6a 90px,#6b6b6b 96px,#6b6b6b 102px,#6b6b6b 108px,#6a6a6a 114px,#696969 120px,#696969 126px,#676767 132px,#666666 138px,#646464 144px,#626262 150px,#606060 156px,#5e5e5e 162px,#5c5c5c 168px,#5c5c5c 174px)"></i><i style="background:linear-gradient(#7a7a7a 0px,#7a7a7a 6px,#7b7b7b 12px,#7a7a7a 18px,#767676 24px,#717171 30px,#6a6a6a 36px,#636363 42px,#5d5d5d 48px,#595959 54px,#575757 60px,#575757 66px,#5a5a5a 72px,#5f5f5f 78px,#636363 84px,#666666 90px,#676767 96px,#686868 102px,#686868 108px,#686868 114px,#696969 120px,#696969 126px,#696969 132px,#686868 138px,#666666 144px,#646464 150px,#636363 156px,#626262 162px,#626262 168px,#626262 174px)"></i><i style="background:linear-gradient(#7d7d7d 0px,#7d7d7d 6px,#7e7e7e 12px,#7d7d7d 18px,#787878 24px,#717171 30px,#696969 36px,#626262 42px,#5b5b5b 48px,#555555 54px,#535353 60px,#535353 66px,#565656 72px,#5b5b5b 78px,#606060 84px,#636363 90px,#656565 96px,#656565 102px,#666666 108px,#676767 114px,#696969 120px,#6a6a6a 126px,#696969 132px,#686868 138px,#676767 144px,#666666 150px,#656565 156px,#666666 162px,#676767 168px,#676767 174px)"></i><i style="background:linear-gradient(#818181 0px,#818181 6px,#818181 12px,#7f7f7f 18px,#797979 24px,#727272 30px,#696969 36px,#616161 42px,#595959 48px,#535353 54px,#505050 60px,#505050 66px,#535353 72px,#585858 78px,#5d5d5d 84px,#616161 90px,#636363 96px,#646464 102px,#656565 108px,#676767 114px,#686868 120px,#6a6a6a 126px,#6a6a6a 132px,#696969 138px,#686868 144px,#686868 150px,#686868 156px,#696969 162px,#6c6c6c 168px,#6c6c6c 174px)"></i><i style="background:linear-gradient(#838383 0px,#838383 6px,#848484 12px,#818181 18px,#7b7b7b 24px,#727272 30px,#696969 36px,#606060 42px,#585858 48px,#515151 54px,#4e4e4e 60px,#4d4d4d 66px,#505050 72px,#565656 78px,#5c5c5c 84px,#606060 90px,#626262 96px,#636363 102px,#656565 108px,#666666 114px,#686868 120px,#6a6a6a 126px,#6a6a6a 132px,#6a6a6a 138px,#6a6a6a 144px,#6a6a6a 150px,#6b6b6b 156px,#6d6d6d 162px,#717171 168px,#717171 174px)"></i><i style="background:linear-gradient(#858585 0px,#858585 6px,#868686 12px,#828282 18px,#7c7c7c 24px,#737373 30px,#696969 36px,#5f5f5f 42px,#575757 48px,#505050 54px,#4c4c4c 60px,#4c4c4c 66px,#4f4f4f 72px,#545454 78px,#5a5a5a 84px,#5f5f5f 90px,#616161 96px,#636363 102px,#646464 108px,#676767 114px,#696969 120px,#6b6b6b 126px,#6b6b6b 132px,#6c6c6c 138px,#6c6c6c 144px,#6c6c6c 150px,#6e6e6e 156px,#717171 162px,#757575 168px,#757575 174px)"></i><i style="background:linear-gradient(#878787 0px,#878787 6px,#878787 12px,#838383 18px,#7c7c7c 24px,#747474 30px,#6a6a6a 36px,#606060 42px,#575757 48px,#505050 54px,#4b4b4b 60px,#4a4a4a 66px,#4d4d4d 72px,#535353 78px,#595959 84px,#5e5e5e 90px,#616161 96px,#626262 102px,#646464 108px,#676767 114px,#6a6a6a 120px,#6c6c6c 126px,#6e6e6e 132px,#6e6e6e 138px,#6e6e6e 144px,#6f6f6f 150px,#717171 156px,#747474 162px,#797979 168px,#797979 174px)"></i><i style="background:linear-gradient(#898989 0px,#898989 6px,#888888 12px,#848484 18px,#7d7d7d 24px,#747474 30px,#6a6a6a 36px,#606060 42px,#575757 48px,#4f4f4f 54px,#4b4b4b 60px,#494949 66px,#4c4c4c 72px,#525252 78px,#585858 84px,#5d5d5d 90px,#606060 96px,#616161 102px,#646464 108px,#676767 114px,#6c6c6c 120px,#6f6f6f 126px,#717171 132px,#727272 138px,#727272 144px,#737373 150px,#747474 156px,#787878 162px,#7d7d7d 168px,#7d7d7d 174px)"></i><i style="background:linear-gradient(#8b8b8b 0px,#8b8b8b 6px,#898989 12px,#858585 18px,#7d7d7d 24px,#757575 30px,#6b6b6b 36px,#616161 42px,#575757 48px,#4f4f4f 54px,#4a4a4a 60px,#484848 66px,#4b4b4b 72px,#515151 78px,#585858 84px,#5c5c5c 90px,#5e5e5e 96px,#606060 102px,#636363 108px,#686868 114px,#6e6e6e 120px,#737373 126px,#757575 132px,#767676 138px,#767676 144px,#767676 150px,#787878 156px,#7c7c7c 162px,#828282 168px,#828282 174px)"></i><i style="background:linear-gradient(#8c8c8c 0px,#8c8c8c 6px,#8a8a8a 12px,#848484 18px,#7d7d7d 24px,#757575 30px,#6b6b6b 36px,#616161 42px,#585858 48px,#4f4f4f 54px,#494949 60px,#474747 66px,#4a4a4a 72px,#515151 78px,#575757 84px,#5c5c5c 90px,#5d5d5d 96px,#5f5f5f 102px,#626262 108px,#686868 114px,#707070 120px,#767676 126px,#7a7a7a 132px,#7b7b7b 138px,#7a7a7a 144px,#7a7a7a 150px,#7b7b7b 156px,#7f7f7f 162px,#858585 168px,#858585 174px)"></i><i style="background:linear-gradient(#8c8c8c 0px,#8c8c8c 6px,#8a8a8a 12px,#848484 18px,#7d7d7d 24px,#757575 30px,#6c6c6c 36px,#626262 42px,#585858 48px,#4f4f4f 54px,#494949 60px,#474747 66px,#4a4a4a 72px,#505050 78px,#575757 84px,#5b5b5b 90px,#5d5d5d 96px,#5e5e5e 102px,#616161 108px,#686868 114px,#717171 120px,#797979 126px,#7e7e7e 132px,#7f7f7f 138px,#7e7e7e 144px,#7e7e7e 150px,#7f7f7f 156px,#828282 162px,#898989 168px,#898989 174px)"></i><i style="background:linear-gradient(#8c8c8c 0px,#8c8c8c 6px,#898989 12px,#838383 18px,#7c7c7c 24px,#747474 30px,#6b6b6b 36px,#626262 42px,#585858 48px,#4f4f4f 54px,#494949 60px,#464646 66px,#494949 72px,#505050 78px,#575757 84px,#5b5b5b 90px,#5c5c5c 96px,#5d5d5d 102px,#606060 108px,#686868 114px,#727272 120px,#7b7b7b 126px,#818181 132px,#828282 138px,#828282 144px,#818181 150px,#828282 156px,#858585 162px,#8b8b8b 168px,#8b8b8b 174px)"></i><i style="background:linear-gradient(#8b8b8b 0px,#8b8b8b 6px,#888888 12px,#828282 18px,#7b7b7b 24px,#737373 30px,#6b6b6b 36px,#616161 42px,#585858 48px,#4f4f4f 54px,#484848 60px,#464646 66px,#494949 72px,#505050 78px,#585858 84px,#5c5c5c 90px,#5c5c5c 96px,#5c5c5c 102px,#5f5f5f 108px,#686868 114px,#727272 120px,#7c7c7c 126px,#828282 132px,#848484 138px,#848484 144px,#848484 150px,#848484 156px,#878787 162px,#8d8d8d 168px,#8d8d8d 174px)"></i><i style="background:linear-gradient(#8a8a8a 0px,#8a8a8a 6px,#868686 12px,#808080 18px,#797979 24px,#727272 30px,#696969 36px,#606060 42px,#575757 48px,#4e4e4e 54px,#474747 60px,#454545 66px,#494949 72px,#515151 78px,#595959 84px,#5d5d5d 90px,#5c5c5c 96px,#5c5c5c 102px,#5f5f5f 108px,#676767 114px,#727272 120px,#7c7c7c 126px,#828282 132px,#858585 138px,#858585 144px,#858585 150px,#868686 156px,#898989 162px,#8e8e8e 168px,#8e8e8e 174px)"></i><i style="background:linear-gradient(#888888 0px,#888888 6px,#858585 12px,#7e7e7e 18px,#787878 24px,#707070 30px,#686868 36px,#5f5f5f 42px,#565656 48px,#4d4d4d 54px,#474747 60px,#454545 66px,#494949 72px,#525252 78px,#5a5a5a 84px,#5e5e5e 90px,#5d5d5d 96px,#5c5c5c 102px,#5e5e5e 108px,#656565 114px,#707070 120px,#7a7a7a 126px,#808080 132px,#848484 138px,#868686 144px,#868686 150px,#888888 156px,#8a8a8a 162px,#8e8e8e 168px,#8e8e8e 174px)"></i><i style="background:linear-gradient(#868686 0px,#868686 6px,#828282 12px,#7d7d7d 18px,#767676 24px,#6f6f6f 30px,#666666 36px,#5e5e5e 42px,#555555 48px,#4c4c4c 54px,#464646 60px,#444444 66px,#494949 72px,#525252 78px,#5b5b5b 84px,#5f5f5f 90px,#5e5e5e 96px,#5c5c5c 102px,#5d5d5d 108px,#646464 114px,#6d6d6d 120px,#777777 126px,#7e7e7e 132px,#828282 138px,#858585 144px,#878787 150px,#888888 156px,#8b8b8b 162px,#8e8e8e 168px,#8e8e8e 174px)"></i><i style="background:linear-gradient(#838383 0px,#838383 6px,#808080 12px,#7b7b7b 18px,#757575 24px,#6d6d6d 30px,#656565 36px,#5d5d5d 42px,#545454 48px,#4b4b4b 54px,#454545 60px,#444444 66px,#494949 72px,#535353 78px,#5c5c5c 84px,#606060 90px,#5f5f5f 96px,#5c5c5c 102px,#5d5d5d 108px,#626262 114px,#6a6a6a 120px,#737373 126px,#7a7a7a 132px,#7f7f7f 138px,#838383 144px,#868686 150px,#888888 156px,#8a8a8a 162px,#8c8c8c 168px,#8c8c8c 174px)"></i><i style="background:linear-gradient(#808080 0px,#808080 6px,#7e7e7e 12px,#7a7a7a 18px,#747474 24px,#6d6d6d 30px,#656565 36px,#5c5c5c 42px,#535353 48px,#4a4a4a 54px,#444444 60px,#434343 66px,#494949 72px,#535353 78px,#5d5d5d 84px,#616161 90px,#606060 96px,#5d5d5d 102px,#5c5c5c 108px,#5f5f5f 114px,#666666 120px,#6e6e6e 126px,#757575 132px,#7b7b7b 138px,#808080 144px,#848484 150px,#878787 156px,#898989 162px,#8a8a8a 168px,#8a8a8a 174px)"></i><i style="background:linear-gradient(#7c7c7c 0px,#7c7c7c 6px,#7b7b7b 12px,#787878 18px,#737373 24px,#6d6d6d 30px,#656565 36px,#5c5c5c 42px,#525252 48px,#494949 54px,#434343 60px,#414141 66px,#484848 72px,#535353 78px,#5d5d5d 84px,#626262 90px,#616161 96px,#5d5d5d 102px,#5b5b5b 108px,#5d5d5d 114px,#626262 120px,#696969 126px,#707070 132px,#777777 138px,#7c7c7c 144px,#818181 150px,#858585 156px,#878787 162px,#888888 168px,#888888 174px)"></i><i style="background:linear-gradient(#787878 0px,#787878 6px,#797979 12px,#777777 18px,#737373 24px,#6d6d6d 30px,#656565 36px,#5c5c5c 42px,#525252 48px,#484848 54px,#414141 60px,#404040 66px,#474747 72px,#535353 78px,#5e5e5e 84px,#636363 90px,#626262 96px,#5d5d5d 102px,#5a5a5a 108px,#5b5b5b 114px,#5e5e5e 120px,#646464 126px,#6a6a6a 132px,#717171 138px,#787878 144px,#7d7d7d 150px,#818181 156px,#848484 162px,#848484 168px,#848484 174px)"></i><i style="background:linear-gradient(#747474 0px,#747474 6px,#767676 12px,#757575 18px,#727272 24px,#6d6d6d 30px,#656565 36px,#5c5c5c 42px,#515151 48px,#474747 54px,#3f3f3f 60px,#3e3e3e 66px,#464646 72px,#525252 78px,#5f5f5f 84px,#646464 90px,#636363 96px,#5e5e5e 102px,#5a5a5a 108px,#585858 114px,#5a5a5a 120px,#5e5e5e 126px,#646464 132px,#6b6b6b 138px,#727272 144px,#787878 150px,#7d7d7d 156px,#808080 162px,#7f7f7f 168px,#7f7f7f 174px)"></i><i style="background:linear-gradient(#6f6f6f 0px,#6f6f6f 6px,#727272 12px,#737373 18px,#717171 24px,#6c6c6c 30px,#646464 36px,#5b5b5b 42px,#505050 48px,#454545 54px,#3d3d3d 60px,#3c3c3c 66px,#444444 72px,#525252 78px,#5f5f5f 84px,#666666 90px,#646464 96px,#5f5f5f 102px,#595959 108px,#565656 114px,#565656 120px,#595959 126px,#5e5e5e 132px,#656565 138px,#6c6c6c 144px,#737373 150px,#787878 156px,#7a7a7a 162px,#7a7a7a 168px,#7a7a7a 174px)"></i><i style="background:linear-gradient(#6a6a6a 0px,#6a6a6a 6px,#6d6d6d 12px,#6f6f6f 18px,#6e6e6e 24px,#6a6a6a 30px,#636363 36px,#5a5a5a 42px,#4f4f4f 48px,#434343 54px,#3b3b3b 60px,#393939 66px,#424242 72px,#525252 78px,#606060 84px,#686868 90px,#666666 96px,#606060 102px,#595959 108px,#545454 114px,#525252 120px,#535353 126px,#575757 132px,#5e5e5e 138px,#656565 144px,#6c6c6c 150px,#727272 156px,#747474 162px,#737373 168px,#737373 174px)"></i><i style="background:linear-gradient(#646464 0px,#646464 6px,#686868 12px,#6b6b6b 18px,#6b6b6b 24px,#676767 30px,#616161 36px,#585858 42px,#4d4d4d 48px,#414141 54px,#383838 60px,#373737 66px,#414141 72px,#515151 78px,#616161 84px,#6a6a6a 90px,#686868 96px,#626262 102px,#595959 108px,#535353 114px,#4e4e4e 120px,#4e4e4e 126px,#515151 132px,#575757 138px,#5e5e5e 144px,#656565 150px,#6b6b6b 156px,#6d6d6d 162px,#6b6b6b 168px,#6b6b6b 174px)"></i><i style="background:linear-gradient(#5e5e5e 0px,#5e5e5e 6px,#626262 12px,#666666 18px,#666666 24px,#636363 30px,#5e5e5e 36px,#555555 42px,#4b4b4b 48px,#3f3f3f 54px,#363636 60px,#353535 66px,#404040 72px,#525252 78px,#636363 84px,#6c6c6c 90px,#6b6b6b 96px,#636363 102px,#5a5a5a 108px,#515151 114px,#4b4b4b 120px,#494949 126px,#4b4b4b 132px,#505050 138px,#575757 144px,#5e5e5e 150px,#636363 156px,#656565 162px,#626262 168px,#626262 174px)"></i><i style="background:linear-gradient(#575757 0px,#575757 6px,#5c5c5c 12px,#606060 18px,#616161 24px,#5f5f5f 30px,#5a5a5a 36px,#525252 42px,#484848 48px,#3c3c3c 54px,#343434 60px,#343434 66px,#404040 72px,#535353 78px,#656565 84px,#6e6e6e 90px,#6d6d6d 96px,#656565 102px,#5a5a5a 108px,#505050 114px,#484848 120px,#444444 126px,#454545 132px,#494949 138px,#505050 144px,#565656 150px,#5b5b5b 156px,#5d5d5d 162px,#5a5a5a 168px,#5a5a5a 174px)"></i><i style="background:linear-gradient(#505050 0px,#505050 6px,#555555 12px,#595959 18px,#5a5a5a 24px,#595959 30px,#555555 36px,#4e4e4e 42px,#454545 48px,#3a3a3a 54px,#333333 60px,#343434 66px,#414141 72px,#555555 78px,#676767 84px,#717171 90px,#707070 96px,#686868 102px,#5c5c5c 108px,#505050 114px,#464646 120px,#404040 126px,#3f3f3f 132px,#424242 138px,#484848 144px,#4f4f4f 150px,#535353 156px,#545454 162px,#515151 168px,#515151 174px)"></i><i style="background:linear-gradient(#494949 0px,#494949 6px,#4e4e4e 12px,#525252 18px,#535353 24px,#525252 30px,#4f4f4f 36px,#494949 42px,#424242 48px,#393939 54px,#343434 60px,#363636 66px,#444444 72px,#585858 78px,#6a6a6a 84px,#747474 90px,#737373 96px,#6a6a6a 102px,#5d5d5d 108px,#505050 114px,#444444 120px,#3c3c3c 126px,#3a3a3a 132px,#3c3c3c 138px,#414141 144px,#474747 150px,#4b4b4b 156px,#4c4c4c 162px,#494949 168px,#494949 174px)"></i><i style="background:linear-gradient(#434343 0px,#434343 6px,#474747 12px,#4a4a4a 18px,#4c4c4c 24px,#4b4b4b 30px,#494949 36px,#444444 42px,#3f3f3f 48px,#383838 54px,#363636 60px,#3a3a3a 66px,#484848 72px,#5c5c5c 78px,#6e6e6e 84px,#777777 90px,#767676 96px,#6d6d6d 102px,#5f5f5f 108px,#505050 114px,#434343 120px,#393939 126px,#353535 132px,#363636 138px,#3b3b3b 144px,#404040 150px,#444444 156px,#454545 162px,#424242 168px,#424242 174px)"></i><i style="background:linear-gradient(#3c3c3c 0px,#3c3c3c 6px,#404040 12px,#434343 18px,#444444 24px,#444444 30px,#424242 36px,#3f3f3f 42px,#3c3c3c 48px,#393939 54px,#393939 60px,#3f3f3f 66px,#4e4e4e 72px,#616161 78px,#727272 84px,#7a7a7a 90px,#797979 96px,#6f6f6f 102px,#616161 108px,#515151 114px,#424242 120px,#363636 126px,#313131 132px,#313131 138px,#343434 144px,#393939 150px,#3d3d3d 156px,#3e3e3e 162px,#3b3b3b 168px,#3b3b3b 174px)"></i><i style="background:linear-gradient(#363636 0px,#363636 6px,#393939 12px,#3c3c3c 18px,#3d3d3d 24px,#3d3d3d 30px,#3c3c3c 36px,#3a3a3a 42px,#393939 48px,#393939 54px,#3d3d3d 60px,#454545 66px,#545454 72px,#666666 78px,#767676 84px,#7d7d7d 90px,#7b7b7b 96px,#727272 102px,#636363 108px,#525252 114px,#414141 120px,#343434 126px,#2e2e2e 132px,#2c2c2c 138px,#2f2f2f 144px,#333333 150px,#373737 156px,#383838 162px,#363636 168px,#363636 174px)"></i><i style="background:linear-gradient(#313131 0px,#313131 6px,#343434 12px,#363636 18px,#373737 24px,#373737 30px,#363636 36px,#373737 42px,#383838 48px,#3b3b3b 54px,#424242 60px,#4c4c4c 66px,#5b5b5b 72px,#6c6c6c 78px,#797979 84px,#808080 90px,#7d7d7d 96px,#747474 102px,#656565 108px,#535353 114px,#414141 120px,#333333 126px,#2b2b2b 132px,#292929 138px,#2a2a2a 144px,#2e2e2e 150px,#313131 156px,#333333 162px,#313131 168px,#313131 174px)"></i><i style="background:linear-gradient(#2d2d2d 0px,#2d2d2d 6px,#2f2f2f 12px,#313131 18px,#323232 24px,#323232 30px,#333333 36px,#343434 42px,#383838 48px,#3e3e3e 54px,#474747 60px,#535353 66px,#626262 72px,#717171 78px,#7c7c7c 84px,#818181 90px,#7f7f7f 96px,#757575 102px,#666666 108px,#545454 114px,#414141 120px,#323232 126px,#292929 132px,#262626 138px,#272727 144px,#2a2a2a 150px,#2d2d2d 156px,#2e2e2e 162px,#2d2d2d 168px,#2d2d2d 174px)"></i><i style="background:linear-gradient(#2a2a2a 0px,#2a2a2a 6px,#2c2c2c 12px,#2e2e2e 18px,#2f2f2f 24px,#303030 30px,#313131 36px,#343434 42px,#393939 48px,#414141 54px,#4c4c4c 60px,#595959 66px,#686868 72px,#757575 78px,#7f7f7f 84px,#838383 90px,#7f7f7f 96px,#767676 102px,#676767 108px,#545454 114px,#414141 120px,#323232 126px,#282828 132px,#242424 138px,#242424 144px,#272727 150px,#292929 156px,#2b2b2b 162px,#2a2a2a 168px,#2a2a2a 174px)"></i><i style="background:linear-gradient(#282828 0px,#282828 6px,#2b2b2b 12px,#2d2d2d 18px,#2f2f2f 24px,#303030 30px,#323232 36px,#363636 42px,#3c3c3c 48px,#464646 54px,#525252 60px,#5f5f5f 66px,#6d6d6d 72px,#787878 78px,#818181 84px,#838383 90px,#7f7f7f 96px,#767676 102px,#676767 108px,#545454 114px,#424242 120px,#323232 126px,#282828 132px,#232323 138px,#232323 144px,#252525 150px,#272727 156px,#292929 162px,#282828 168px,#282828 174px)"></i><i style="background:linear-gradient(#282828 0px,#282828 6px,#2c2c2c 12px,#2f2f2f 18px,#313131 24px,#333333 30px,#363636 36px,#3b3b3b 42px,#424242 48px,#4b4b4b 54px,#575757 60px,#646464 66px,#707070 72px,#7a7a7a 78px,#818181 84px,#838383 90px,#7e7e7e 96px,#757575 102px,#666666 108px,#545454 114px,#424242 120px,#323232 126px,#282828 132px,#242424 138px,#232323 144px,#252525 150px,#272727 156px,#282828 162px,#272727 168px,#272727 174px)"></i><i style="background:linear-gradient(#2a2a2a 0px,#2a2a2a 6px,#2f2f2f 12px,#343434 18px,#373737 24px,#3b3b3b 30px,#3e3e3e 36px,#434343 42px,#494949 48px,#525252 54px,#5c5c5c 60px,#676767 66px,#717171 72px,#7b7b7b 78px,#818181 84px,#818181 90px,#7c7c7c 96px,#727272 102px,#646464 108px,#535353 114px,#414141 120px,#333333 126px,#2a2a2a 132px,#262626 138px,#252525 144px,#262626 150px,#282828 156px,#292929 162px,#272727 168px,#272727 174px)"></i><i style="background:linear-gradient(#2d2d2d 0px,#2d2d2d 6px,#333333 12px,#393939 18px,#3f3f3f 24px,#434343 30px,#474747 36px,#4c4c4c 42px,#515151 48px,#575757 54px,#5f5f5f 60px,#676767 66px,#717171 72px,#7a7a7a 78px,#7f7f7f 84px,#7f7f7f 90px,#7a7a7a 96px,#707070 102px,#616161 108px,#515151 114px,#414141 120px,#343434 126px,#2c2c2c 132px,#282828 138px,#282828 144px,#292929 150px,#2a2a2a 156px,#2a2a2a 162px,#282828 168px,#282828 174px)"></i><i style="background:linear-gradient(#2d2d2d 0px,#2d2d2d 6px,#333333 12px,#393939 18px,#3f3f3f 24px,#434343 30px,#474747 36px,#4c4c4c 42px,#515151 48px,#575757 54px,#5f5f5f 60px,#676767 66px,#717171 72px,#7a7a7a 78px,#7f7f7f 84px,#7f7f7f 90px,#7a7a7a 96px,#707070 102px,#616161 108px,#515151 114px,#414141 120px,#343434 126px,#2c2c2c 132px,#282828 138px,#282828 144px,#292929 150px,#2a2a2a 156px,#2a2a2a 162px,#282828 168px,#282828 174px)"></i><i style="background:linear-gradient(#2d2d2d 0px,#2d2d2d 6px,#333333 12px,#393939 18px,#3f3f3f 24px,#434343 30px,#474747 36px,#4c4c4c 42px,#515151 48px,#575757 54px,#5f5f5f 60px,#676767 66px,#717171 72px,#7a7a7a 78px,#7f7f7f 84px,#7f7f7f 90px,#7a7a7a 96px,#707070 102px,#616161 108px,#515151 114px,#414141 120px,#343434 126px,#2c2c2c 132px,#282828 138px,#282828 144px,#292929 150px,#2a2a2a 156px,#2a2a2a 162px,#282828 168px,#282828 174px)"></i></div></div>
<svg width="618" height="294" viewBox="0 0 618 294" font-family="'Liberation Serif', serif" fill="#000">
<defs>
<clipPath id="pc"><rect x="110.5" y="78.5" width="506.0" height="161.5"/></clipPath>
</defs>
<g clip-path="url(#pc)">
<rect x="110.5" y="78" width="3" height="163" fill="#fff" opacity="0.3"/>
<path d="M104.8 189.4a3.25 3.25 0 1 0 6.50 0a3.25 3.25 0 1 0 -6.50 0zM107.5 189.4a3.25 3.25 0 1 0 6.50 0a3.25 3.25 0 1 0 -6.50 0zM110.2 189.4a3.25 3.25 0 1 0 6.50 0a3.25 3.25 0 1 0 -6.50 0zM112.9 189.4a3.25 3.25 0 1 0 6.50 0a3.25 3.25 0 1 0 -6.50 0zM115.6 189.4a3.25 3.25 0 1 0 6.50 0a3.25 3.25 0 1 0 -6.50 0zM118.3 189.4a3.25 3.25 0 1 0 6.50 0a3.25 3.25 0 1 0 -6.50 0zM121.0 189.4a3.25 3.25 0 1 0 6.50 0a3.25 3.25 0 1 0 -6.50 0zM123.8 189.4a3.25 3.25 0 1 0 6.50 0a3.25 3.25 0 1 0 -6.50 0zM124.2 196.1a3.25 3.25 0 1 0 6.50 0a3.25 3.25 0 1 0 -6.50 0zM127.8 196.5a3.25 3.25 0 1 0 6.50 0a3.25 3.25 0 1 0 -6.50 0zM130.7 197.0a3.25 3.25 0 1 0 6.50 0a3.25 3.25 0 1 0 -6.50 0zM133.8 197.2a3.25 3.25 0 1 0 6.50 0a3.25 3.25 0 1 0 -6.50 0zM137.1 197.4a3.25 3.25 0 1 0 6.50 0a3.25 3.25 0 1 0 -6.50 0zM140.2 198.1a3.25 3.25 0 1 0 6.50 0a3.25 3.25 0 1 0 -6.50 0zM143.6 198.9a3.25 3.25 0 1 0 6.50 0a3.25 3.25 0 1 0 -6.50 0zM148.2 199.8a3.25 3.25 0 1 0 6.50 0a3.25 3.25 0 1 0 -6.50 0zM153.7 201.6a3.25 3.25 0 1 0 6.50 0a3.25 3.25 0 1 0 -6.50 0zM158.2 204.4a3.25 3.25 0 1 0 6.50 0a3.25 3.25 0 1 0 -6.50 0zM161.8 205.9a3.25 3.25 0 1 0 6.50 0a3.25 3.25 0 1 0 -6.50 0zM166.4 208.0a3.25 3.25 0 1 0 6.50 0a3.25 3.25 0 1 0 -6.50 0zM171.1 209.9a3.25 3.25 0 1 0 6.50 0a3.25 3.25 0 1 0 -6.50 0zM173.8 212.7a3.25 3.25 0 1 0 6.50 0a3.25 3.25 0 1 0 -6.50 0zM177.6 215.4a3.25 3.25 0 1 0 6.50 0a3.25 3.25 0 1 0 -6.50 0zM182.2 216.3a3.25 3.25 0 1 0 6.50 0a3.25 3.25 0 1 0 -6.50 0zM184.8 222.8a3.25 3.25 0 1 0 6.50 0a3.25 3.25 0 1 0 -6.50 0zM188.2 222.8a3.25 3.25 0 1 0 6.50 0a3.25 3.25 0 1 0 -6.50 0zM191.3 222.8a3.25 3.25 0 1 0 6.50 0a3.25 3.25 0 1 0 -6.50 0zM194.1 232.9a3.25 3.25 0 1 0 6.50 0a3.25 3.25 0 1 0 -6.50 0zM199.6 232.9a3.25 3.25 0 1 0 6.50 0a3.25 3.25 0 1 0 -6.50 0zM196.8 235.6a3.25 3.25 0 1 0 6.50 0a3.25 3.25 0 1 0 -6.50 0zM196.8 232.9a3.25 3.25 0 1 0 6.50 0a3.25 3.25 0 1 0 -6.50 0zM202.3 83.3a3.25 3.25 0 1 0 6.50 0a3.25 3.25 0 1 0 -6.50 0zM203.7 85.4a3.25 3.25 0 1 0 6.50 0a3.25 3.25 0 1 0 -6.50 0zM205.5 87.2a3.25 3.25 0 1 0 6.50 0a3.25 3.25 0 1 0 -6.50 0zM207.6 88.7a3.25 3.25 0 1 0 6.50 0a3.25 3.25 0 1 0 -6.50 0zM209.8 89.9a3.25 3.25 0 1 0 6.50 0a3.25 3.25 0 1 0 -6.50 0zM212.0 91.1a3.25 3.25 0 1 0 6.50 0a3.25 3.25 0 1 0 -6.50 0zM214.2 92.3a3.25 3.25 0 1 0 6.50 0a3.25 3.25 0 1 0 -6.50 0zM216.4 93.5a3.25 3.25 0 1 0 6.50 0a3.25 3.25 0 1 0 -6.50 0zM218.5 94.9a3.25 3.25 0 1 0 6.50 0a3.25 3.25 0 1 0 -6.50 0zM220.6 96.4a3.25 3.25 0 1 0 6.50 0a3.25 3.25 0 1 0 -6.50 0zM222.7 97.9a3.25 3.25 0 1 0 6.50 0a3.25 3.25 0 1 0 -6.50 0zM224.8 99.3a3.25 3.25 0 1 0 6.50 0a3.25 3.25 0 1 0 -6.50 0zM226.8 100.7a3.25 3.25 0 1 0 6.50 0a3.25 3.25 0 1 0 -6.50 0zM229.0 102.0a3.25 3.25 0 1 0 6.50 0a3.25 3.25 0 1 0 -6.50 0zM231.3 103.2a3.25 3.25 0 1 0 6.50 0a3.25 3.25 0 1 0 -6.50 0zM233.5 104.4a3.25 3.25 0 1 0 6.50 0a3.25 3.25 0 1 0 -6.50 0zM235.7 105.6a3.25 3.25 0 1 0 6.50 0a3.25 3.25 0 1 0 -6.50 0zM238.0 106.8a3.25 3.25 0 1 0 6.50 0a3.25 3.25 0 1 0 -6.50 0zM240.3 107.8a3.25 3.25 0 1 0 6.50 0a3.25 3.25 0 1 0 -6.50 0zM242.6 108.9a3.25 3.25 0 1 0 6.50 0a3.25 3.25 0 1 0 -6.50 0zM244.9 109.9a3.25 3.25 0 1 0 6.50 0a3.25 3.25 0 1 0 -6.50 0zM247.2 110.9a3.25 3.25 0 1 0 6.50 0a3.25 3.25 0 1 0 -6.50 0zM249.4 112.2a3.25 3.25 0 1 0 6.50 0a3.25 3.25 0 1 0 -6.50 0zM251.6 113.4a3.25 3.25 0 1 0 6.50 0a3.25 3.25 0 1 0 -6.50 0zM253.8 114.6a3.25 3.25 0 1 0 6.50 0a3.25 3.25 0 1 0 -6.50 0zM256.1 115.8a3.25 3.25 0 1 0 6.50 0a3.25 3.25 0 1 0 -6.50 0zM258.3 117.1a3.25 3.25 0 1 0 6.50 0a3.25 3.25 0 1 0 -6.50 0zM260.5 118.3a3.25 3.25 0 1 0 6.50 0a3.25 3.25 0 1 0 -6.50 0zM262.7 119.5a3.25 3.25 0 1 0 6.50 0a3.25 3.25 0 1 0 -6.50 0zM264.9 120.7a3.25 3.25 0 1 0 6.50 0a3.25 3.25 0 1 0 -6.50 0zM267.2 121.9a3.25 3.25 0 1 0 6.50 0a3.25 3.25 0 1 0 -6.50 0zM269.5 122.9a3.25 3.25 0 1 0 6.50 0a3.25 3.25 0 1 0 -6.50 0zM271.8 123.9a3.25 3.25 0 1 0 6.50 0a3.25 3.25 0 1 0 -6.50 0zM274.1 125.0a3.25 3.25 0 1 0 6.50 0a3.25 3.25 0 1 0 -6.50 0zM276.5 126.0a3.25 3.25 0 1 0 6.50 0a3.25 3.25 0 1 0 -6.50 0zM278.8 126.8a3.25 3.25 0 1 0 6.50 0a3.25 3.25 0 1 0 -6.50 0zM281.2 127.7a3.25 3.25 0 1 0 6.50 0a3.25 3.25 0 1 0 -6.50 0zM283.6 128.5a3.25 3.25 0 1 0 6.50 0a3.25 3.25 0 1 0 -6.50 0zM286.0 129.3a3.25 3.25 0 1 0 6.50 0a3.25 3.25 0 1 0 -6.50 0zM288.4 130.3a3.25 3.25 0 1 0 6.50 0a3.25 3.25 0 1 0 -6.50 0zM290.7 131.3a3.25 3.25 0 1 0 6.50 0a3.25 3.25 0 1 0 -6.50 0zM292.9 132.5a3.25 3.25 0 1 0 6.50 0a3.25 3.25 0 1 0 -6.50 0zM295.0 133.9a3.25 3.25 0 1 0 6.50 0a3.25 3.25 0 1 0 -6.50 0zM297.2 135.1a3.25 3.25 0 1 0 6.50 0a3.25 3.25 0 1 0 -6.50 0zM299.6 135.9a3.25 3.25 0 1 0 6.50 0a3.25 3.25 0 1 0 -6.50 0zM302.0 136.6a3.25 3.25 0 1 0 6.50 0a3.25 3.25 0 1 0 -6.50 0zM304.5 137.3a3.25 3.25 0 1 0 6.50 0a3.25 3.25 0 1 0 -6.50 0zM306.9 138.0a3.25 3.25 0 1 0 6.50 0a3.25 3.25 0 1 0 -6.50 0zM309.3 138.7a3.25 3.25 0 1 0 6.50 0a3.25 3.25 0 1 0 -6.50 0zM311.8 139.3a3.25 3.25 0 1 0 6.50 0a3.25 3.25 0 1 0 -6.50 0zM314.2 139.9a3.25 3.25 0 1 0 6.50 0a3.25 3.25 0 1 0 -6.50 0zM316.7 140.6a3.25 3.25 0 1 0 6.50 0a3.25 3.25 0 1 0 -6.50 0zM319.1 141.4a3.25 3.25 0 1 0 6.50 0a3.25 3.25 0 1 0 -6.50 0zM321.5 142.2a3.25 3.25 0 1 0 6.50 0a3.25 3.25 0 1 0 -6.50 0zM323.9 143.0a3.25 3.25 0 1 0 6.50 0a3.25 3.25 0 1 0 -6.50 0zM326.3 143.8a3.25 3.25 0 1 0 6.50 0a3.25 3.25 0 1 0 -6.50 0zM328.5 145.0a3.25 3.25 0 1 0 6.50 0a3.25 3.25 0 1 0 -6.50 0zM330.4 146.7a3.25 3.25 0 1 0 6.50 0a3.25 3.25 0 1 0 -6.50 0zM331.8 148.8a3.25 3.25 0 1 0 6.50 0a3.25 3.25 0 1 0 -6.50 0zM202.3 85.9a3.25 3.25 0 1 0 6.50 0a3.25 3.25 0 1 0 -6.50 0zM203.7 88.0a3.25 3.25 0 1 0 6.50 0a3.25 3.25 0 1 0 -6.50 0zM205.5 89.8a3.25 3.25 0 1 0 6.50 0a3.25 3.25 0 1 0 -6.50 0zM207.5 91.2a3.25 3.25 0 1 0 6.50 0a3.25 3.25 0 1 0 -6.50 0zM209.7 92.5a3.25 3.25 0 1 0 6.50 0a3.25 3.25 0 1 0 -6.50 0zM211.9 93.7a3.25 3.25 0 1 0 6.50 0a3.25 3.25 0 1 0 -6.50 0zM214.1 94.9a3.25 3.25 0 1 0 6.50 0a3.25 3.25 0 1 0 -6.50 0zM216.3 96.1a3.25 3.25 0 1 0 6.50 0a3.25 3.25 0 1 0 -6.50 0zM218.4 97.5a3.25 3.25 0 1 0 6.50 0a3.25 3.25 0 1 0 -6.50 0zM220.5 98.9a3.25 3.25 0 1 0 6.50 0a3.25 3.25 0 1 0 -6.50 0zM222.5 100.4a3.25 3.25 0 1 0 6.50 0a3.25 3.25 0 1 0 -6.50 0zM224.6 101.8a3.25 3.25 0 1 0 6.50 0a3.25 3.25 0 1 0 -6.50 0zM226.7 103.2a3.25 3.25 0 1 0 6.50 0a3.25 3.25 0 1 0 -6.50 0zM228.9 104.5a3.25 3.25 0 1 0 6.50 0a3.25 3.25 0 1 0 -6.50 0zM231.1 105.7a3.25 3.25 0 1 0 6.50 0a3.25 3.25 0 1 0 -6.50 0zM233.3 106.9a3.25 3.25 0 1 0 6.50 0a3.25 3.25 0 1 0 -6.50 0zM235.5 108.1a3.25 3.25 0 1 0 6.50 0a3.25 3.25 0 1 0 -6.50 0zM237.7 109.2a3.25 3.25 0 1 0 6.50 0a3.25 3.25 0 1 0 -6.50 0zM240.0 110.3a3.25 3.25 0 1 0 6.50 0a3.25 3.25 0 1 0 -6.50 0zM242.3 111.3a3.25 3.25 0 1 0 6.50 0a3.25 3.25 0 1 0 -6.50 0zM244.6 112.4a3.25 3.25 0 1 0 6.50 0a3.25 3.25 0 1 0 -6.50 0zM246.9 113.4a3.25 3.25 0 1 0 6.50 0a3.25 3.25 0 1 0 -6.50 0zM249.1 114.6a3.25 3.25 0 1 0 6.50 0a3.25 3.25 0 1 0 -6.50 0zM251.3 115.8a3.25 3.25 0 1 0 6.50 0a3.25 3.25 0 1 0 -6.50 0zM253.5 117.0a3.25 3.25 0 1 0 6.50 0a3.25 3.25 0 1 0 -6.50 0zM255.7 118.2a3.25 3.25 0 1 0 6.50 0a3.25 3.25 0 1 0 -6.50 0zM257.9 119.5a3.25 3.25 0 1 0 6.50 0a3.25 3.25 0 1 0 -6.50 0zM260.1 120.7a3.25 3.25 0 1 0 6.50 0a3.25 3.25 0 1 0 -6.50 0zM262.3 121.9a3.25 3.25 0 1 0 6.50 0a3.25 3.25 0 1 0 -6.50 0zM264.5 123.1a3.25 3.25 0 1 0 6.50 0a3.25 3.25 0 1 0 -6.50 0zM266.7 124.3a3.25 3.25 0 1 0 6.50 0a3.25 3.25 0 1 0 -6.50 0zM269.0 125.3a3.25 3.25 0 1 0 6.50 0a3.25 3.25 0 1 0 -6.50 0zM271.3 126.3a3.25 3.25 0 1 0 6.50 0a3.25 3.25 0 1 0 -6.50 0zM273.6 127.3a3.25 3.25 0 1 0 6.50 0a3.25 3.25 0 1 0 -6.50 0zM276.0 128.3a3.25 3.25 0 1 0 6.50 0a3.25 3.25 0 1 0 -6.50 0zM278.3 129.3a3.25 3.25 0 1 0 6.50 0a3.25 3.25 0 1 0 -6.50 0zM280.7 130.1a3.25 3.25 0 1 0 6.50 0a3.25 3.25 0 1 0 -6.50 0zM283.0 130.9a3.25 3.25 0 1 0 6.50 0a3.25 3.25 0 1 0 -6.50 0zM285.4 131.7a3.25 3.25 0 1 0 6.50 0a3.25 3.25 0 1 0 -6.50 0zM287.8 132.6a3.25 3.25 0 1 0 6.50 0a3.25 3.25 0 1 0 -6.50 0zM290.1 133.6a3.25 3.25 0 1 0 6.50 0a3.25 3.25 0 1 0 -6.50 0zM292.5 134.4a3.25 3.25 0 1 0 6.50 0a3.25 3.25 0 1 0 -6.50 0zM295.0 134.7a3.25 3.25 0 1 0 6.50 0a3.25 3.25 0 1 0 -6.50 0zM297.4 135.2a3.25 3.25 0 1 0 6.50 0a3.25 3.25 0 1 0 -6.50 0zM299.8 135.9a3.25 3.25 0 1 0 6.50 0a3.25 3.25 0 1 0 -6.50 0zM302.2 136.6a3.25 3.25 0 1 0 6.50 0a3.25 3.25 0 1 0 -6.50 0zM304.7 137.4a3.25 3.25 0 1 0 6.50 0a3.25 3.25 0 1 0 -6.50 0zM307.1 138.1a3.25 3.25 0 1 0 6.50 0a3.25 3.25 0 1 0 -6.50 0zM309.5 138.7a3.25 3.25 0 1 0 6.50 0a3.25 3.25 0 1 0 -6.50 0zM311.9 139.3a3.25 3.25 0 1 0 6.50 0a3.25 3.25 0 1 0 -6.50 0zM314.4 140.0a3.25 3.25 0 1 0 6.50 0a3.25 3.25 0 1 0 -6.50 0zM316.8 140.6a3.25 3.25 0 1 0 6.50 0a3.25 3.25 0 1 0 -6.50 0zM319.2 141.4a3.25 3.25 0 1 0 6.50 0a3.25 3.25 0 1 0 -6.50 0zM321.6 142.2a3.25 3.25 0 1 0 6.50 0a3.25 3.25 0 1 0 -6.50 0zM324.0 143.0a3.25 3.25 0 1 0 6.50 0a3.25 3.25 0 1 0 -6.50 0zM326.4 143.8a3.25 3.25 0 1 0 6.50 0a3.25 3.25 0 1 0 -6.50 0zM328.5 145.0a3.25 3.25 0 1 0 6.50 0a3.25 3.25 0 1 0 -6.50 0zM330.4 146.7a3.25 3.25 0 1 0 6.50 0a3.25 3.25 0 1 0 -6.50 0zM331.8 148.8a3.25 3.25 0 1 0 6.50 0a3.25 3.25 0 1 0 -6.50 0zM334.1 168.8a3.25 3.25 0 1 0 6.50 0a3.25 3.25 0 1 0 -6.50 0zM335.1 176.0a3.25 3.25 0 1 0 6.50 0a3.25 3.25 0 1 0 -6.50 0zM336.9 177.8a3.25 3.25 0 1 0 6.50 0a3.25 3.25 0 1 0 -6.50 0zM338.8 179.5a3.25 3.25 0 1 0 6.50 0a3.25 3.25 0 1 0 -6.50 0zM340.7 181.2a3.25 3.25 0 1 0 6.50 0a3.25 3.25 0 1 0 -6.50 0zM342.7 182.8a3.25 3.25 0 1 0 6.50 0a3.25 3.25 0 1 0 -6.50 0zM344.7 184.4a3.25 3.25 0 1 0 6.50 0a3.25 3.25 0 1 0 -6.50 0zM346.7 186.0a3.25 3.25 0 1 0 6.50 0a3.25 3.25 0 1 0 -6.50 0zM348.7 187.6a3.25 3.25 0 1 0 6.50 0a3.25 3.25 0 1 0 -6.50 0zM350.7 189.2a3.25 3.25 0 1 0 6.50 0a3.25 3.25 0 1 0 -6.50 0zM352.9 190.5a3.25 3.25 0 1 0 6.50 0a3.25 3.25 0 1 0 -6.50 0zM355.1 191.8a3.25 3.25 0 1 0 6.50 0a3.25 3.25 0 1 0 -6.50 0zM357.3 193.1a3.25 3.25 0 1 0 6.50 0a3.25 3.25 0 1 0 -6.50 0zM359.5 194.5a3.25 3.25 0 1 0 6.50 0a3.25 3.25 0 1 0 -6.50 0zM361.7 195.8a3.25 3.25 0 1 0 6.50 0a3.25 3.25 0 1 0 -6.50 0zM363.8 197.2a3.25 3.25 0 1 0 6.50 0a3.25 3.25 0 1 0 -6.50 0zM365.9 198.7a3.25 3.25 0 1 0 6.50 0a3.25 3.25 0 1 0 -6.50 0zM368.0 200.2a3.25 3.25 0 1 0 6.50 0a3.25 3.25 0 1 0 -6.50 0zM369.9 201.9a3.25 3.25 0 1 0 6.50 0a3.25 3.25 0 1 0 -6.50 0zM371.9 203.5a3.25 3.25 0 1 0 6.50 0a3.25 3.25 0 1 0 -6.50 0zM373.8 205.3a3.25 3.25 0 1 0 6.50 0a3.25 3.25 0 1 0 -6.50 0zM375.7 207.0a3.25 3.25 0 1 0 6.50 0a3.25 3.25 0 1 0 -6.50 0zM336.4 174.6a3.25 3.25 0 1 0 6.50 0a3.25 3.25 0 1 0 -6.50 0zM338.3 176.4a3.25 3.25 0 1 0 6.50 0a3.25 3.25 0 1 0 -6.50 0zM340.2 178.1a3.25 3.25 0 1 0 6.50 0a3.25 3.25 0 1 0 -6.50 0zM342.1 179.8a3.25 3.25 0 1 0 6.50 0a3.25 3.25 0 1 0 -6.50 0zM344.1 181.4a3.25 3.25 0 1 0 6.50 0a3.25 3.25 0 1 0 -6.50 0zM346.1 183.0a3.25 3.25 0 1 0 6.50 0a3.25 3.25 0 1 0 -6.50 0zM348.1 184.6a3.25 3.25 0 1 0 6.50 0a3.25 3.25 0 1 0 -6.50 0zM350.1 186.2a3.25 3.25 0 1 0 6.50 0a3.25 3.25 0 1 0 -6.50 0zM352.1 187.8a3.25 3.25 0 1 0 6.50 0a3.25 3.25 0 1 0 -6.50 0zM354.3 189.1a3.25 3.25 0 1 0 6.50 0a3.25 3.25 0 1 0 -6.50 0zM356.5 190.4a3.25 3.25 0 1 0 6.50 0a3.25 3.25 0 1 0 -6.50 0zM358.7 191.7a3.25 3.25 0 1 0 6.50 0a3.25 3.25 0 1 0 -6.50 0zM360.9 193.1a3.25 3.25 0 1 0 6.50 0a3.25 3.25 0 1 0 -6.50 0zM363.1 194.4a3.25 3.25 0 1 0 6.50 0a3.25 3.25 0 1 0 -6.50 0zM365.2 195.8a3.25 3.25 0 1 0 6.50 0a3.25 3.25 0 1 0 -6.50 0zM367.3 197.3a3.25 3.25 0 1 0 6.50 0a3.25 3.25 0 1 0 -6.50 0zM369.4 198.8a3.25 3.25 0 1 0 6.50 0a3.25 3.25 0 1 0 -6.50 0zM371.3 200.5a3.25 3.25 0 1 0 6.50 0a3.25 3.25 0 1 0 -6.50 0zM373.3 202.1a3.25 3.25 0 1 0 6.50 0a3.25 3.25 0 1 0 -6.50 0zM375.2 203.9a3.25 3.25 0 1 0 6.50 0a3.25 3.25 0 1 0 -6.50 0zM377.1 205.6a3.25 3.25 0 1 0 6.50 0a3.25 3.25 0 1 0 -6.50 0zM375.8 208.6a3.25 3.25 0 1 0 6.50 0a3.25 3.25 0 1 0 -6.50 0zM378.2 208.6a3.25 3.25 0 1 0 6.50 0a3.25 3.25 0 1 0 -6.50 0zM380.8 208.6a3.25 3.25 0 1 0 6.50 0a3.25 3.25 0 1 0 -6.50 0zM383.2 208.6a3.25 3.25 0 1 0 6.50 0a3.25 3.25 0 1 0 -6.50 0zM385.8 208.6a3.25 3.25 0 1 0 6.50 0a3.25 3.25 0 1 0 -6.50 0zM388.2 208.6a3.25 3.25 0 1 0 6.50 0a3.25 3.25 0 1 0 -6.50 0zM390.8 208.6a3.25 3.25 0 1 0 6.50 0a3.25 3.25 0 1 0 -6.50 0zM390.2 216.0a3.25 3.25 0 1 0 6.50 0a3.25 3.25 0 1 0 -6.50 0zM392.8 216.0a3.25 3.25 0 1 0 6.50 0a3.25 3.25 0 1 0 -6.50 0zM395.4 216.0a3.25 3.25 0 1 0 6.50 0a3.25 3.25 0 1 0 -6.50 0zM398.0 216.0a3.25 3.25 0 1 0 6.50 0a3.25 3.25 0 1 0 -6.50 0zM400.6 216.0a3.25 3.25 0 1 0 6.50 0a3.25 3.25 0 1 0 -6.50 0zM403.2 216.0a3.25 3.25 0 1 0 6.50 0a3.25 3.25 0 1 0 -6.50 0zM405.8 216.0a3.25 3.25 0 1 0 6.50 0a3.25 3.25 0 1 0 -6.50 0zM408.8 222.7a3.25 3.25 0 1 0 6.50 0a3.25 3.25 0 1 0 -6.50 0zM455.4 202.0a3.25 3.25 0 1 0 6.50 0a3.25 3.25 0 1 0 -6.50 0zM453.8 209.1a3.25 3.25 0 1 0 6.50 0a3.25 3.25 0 1 0 -6.50 0zM448.8 205.8a3.25 3.25 0 1 0 6.50 0a3.25 3.25 0 1 0 -6.50 0zM447.8 211.3a3.25 3.25 0 1 0 6.50 0a3.25 3.25 0 1 0 -6.50 0zM444.4 210.2a3.25 3.25 0 1 0 6.50 0a3.25 3.25 0 1 0 -6.50 0zM441.1 212.3a3.25 3.25 0 1 0 6.50 0a3.25 3.25 0 1 0 -6.50 0zM440.1 216.7a3.25 3.25 0 1 0 6.50 0a3.25 3.25 0 1 0 -6.50 0zM435.8 212.3a3.25 3.25 0 1 0 6.50 0a3.25 3.25 0 1 0 -6.50 0zM435.1 216.7a3.25 3.25 0 1 0 6.50 0a3.25 3.25 0 1 0 -6.50 0zM429.1 215.1a3.25 3.25 0 1 0 6.50 0a3.25 3.25 0 1 0 -6.50 0zM431.4 217.2a3.25 3.25 0 1 0 6.50 0a3.25 3.25 0 1 0 -6.50 0zM423.8 215.1a3.25 3.25 0 1 0 6.50 0a3.25 3.25 0 1 0 -6.50 0zM422.6 217.2a3.25 3.25 0 1 0 6.50 0a3.25 3.25 0 1 0 -6.50 0zM419.4 224.3a3.25 3.25 0 1 0 6.50 0a3.25 3.25 0 1 0 -6.50 0zM413.9 221.0a3.25 3.25 0 1 0 6.50 0a3.25 3.25 0 1 0 -6.50 0zM451.8 207.5a3.25 3.25 0 1 0 6.50 0a3.25 3.25 0 1 0 -6.50 0zM444.8 214.0a3.25 3.25 0 1 0 6.50 0a3.25 3.25 0 1 0 -6.50 0zM455.8 114.7a3.25 3.25 0 1 0 6.50 0a3.25 3.25 0 1 0 -6.50 0zM457.8 116.2a3.25 3.25 0 1 0 6.50 0a3.25 3.25 0 1 0 -6.50 0zM459.9 117.7a3.25 3.25 0 1 0 6.50 0a3.25 3.25 0 1 0 -6.50 0zM461.7 119.4a3.25 3.25 0 1 0 6.50 0a3.25 3.25 0 1 0 -6.50 0zM462.6 121.7a3.25 3.25 0 1 0 6.50 0a3.25 3.25 0 1 0 -6.50 0zM464.3 123.2a3.25 3.25 0 1 0 6.50 0a3.25 3.25 0 1 0 -6.50 0zM466.8 123.8a3.25 3.25 0 1 0 6.50 0a3.25 3.25 0 1 0 -6.50 0zM469.2 124.4a3.25 3.25 0 1 0 6.50 0a3.25 3.25 0 1 0 -6.50 0zM468.0 125.9a3.25 3.25 0 1 0 6.50 0a3.25 3.25 0 1 0 -6.50 0zM466.1 127.5a3.25 3.25 0 1 0 6.50 0a3.25 3.25 0 1 0 -6.50 0zM465.5 128.9a3.25 3.25 0 1 0 6.50 0a3.25 3.25 0 1 0 -6.50 0zM467.9 129.8a3.25 3.25 0 1 0 6.50 0a3.25 3.25 0 1 0 -6.50 0zM470.2 130.8a3.25 3.25 0 1 0 6.50 0a3.25 3.25 0 1 0 -6.50 0zM472.6 131.7a3.25 3.25 0 1 0 6.50 0a3.25 3.25 0 1 0 -6.50 0zM474.9 130.8a3.25 3.25 0 1 0 6.50 0a3.25 3.25 0 1 0 -6.50 0zM477.2 129.7a3.25 3.25 0 1 0 6.50 0a3.25 3.25 0 1 0 -6.50 0zM479.5 128.6a3.25 3.25 0 1 0 6.50 0a3.25 3.25 0 1 0 -6.50 0zM481.1 130.6a3.25 3.25 0 1 0 6.50 0a3.25 3.25 0 1 0 -6.50 0zM482.8 132.5a3.25 3.25 0 1 0 6.50 0a3.25 3.25 0 1 0 -6.50 0zM484.5 134.2a3.25 3.25 0 1 0 6.50 0a3.25 3.25 0 1 0 -6.50 0zM486.8 133.2a3.25 3.25 0 1 0 6.50 0a3.25 3.25 0 1 0 -6.50 0zM489.1 132.2a3.25 3.25 0 1 0 6.50 0a3.25 3.25 0 1 0 -6.50 0zM488.8 132.0a3.25 3.25 0 1 0 6.50 0a3.25 3.25 0 1 0 -6.50 0zM491.4 132.0a3.25 3.25 0 1 0 6.50 0a3.25 3.25 0 1 0 -6.50 0zM494.0 132.0a3.25 3.25 0 1 0 6.50 0a3.25 3.25 0 1 0 -6.50 0zM496.6 132.0a3.25 3.25 0 1 0 6.50 0a3.25 3.25 0 1 0 -6.50 0zM499.2 132.0a3.25 3.25 0 1 0 6.50 0a3.25 3.25 0 1 0 -6.50 0zM501.9 132.0a3.25 3.25 0 1 0 6.50 0a3.25 3.25 0 1 0 -6.50 0zM504.5 132.0a3.25 3.25 0 1 0 6.50 0a3.25 3.25 0 1 0 -6.50 0zM507.1 132.0a3.25 3.25 0 1 0 6.50 0a3.25 3.25 0 1 0 -6.50 0zM509.8 132.0a3.25 3.25 0 1 0 6.50 0a3.25 3.25 0 1 0 -6.50 0zM512.4 132.0a3.25 3.25 0 1 0 6.50 0a3.25 3.25 0 1 0 -6.50 0zM515.0 132.0a3.25 3.25 0 1 0 6.50 0a3.25 3.25 0 1 0 -6.50 0zM517.6 132.0a3.25 3.25 0 1 0 6.50 0a3.25 3.25 0 1 0 -6.50 0zM520.2 132.0a3.25 3.25 0 1 0 6.50 0a3.25 3.25 0 1 0 -6.50 0zM522.9 132.0a3.25 3.25 0 1 0 6.50 0a3.25 3.25 0 1 0 -6.50 0zM525.5 132.0a3.25 3.25 0 1 0 6.50 0a3.25 3.25 0 1 0 -6.50 0zM528.1 132.0a3.25 3.25 0 1 0 6.50 0a3.25 3.25 0 1 0 -6.50 0zM530.8 132.0a3.25 3.25 0 1 0 6.50 0a3.25 3.25 0 1 0 -6.50 0zM531.5 135.2a3.25 3.25 0 1 0 6.50 0a3.25 3.25 0 1 0 -6.50 0zM532.3 132.8a3.25 3.25 0 1 0 6.50 0a3.25 3.25 0 1 0 -6.50 0zM533.2 130.4a3.25 3.25 0 1 0 6.50 0a3.25 3.25 0 1 0 -6.50 0zM535.5 129.4a3.25 3.25 0 1 0 6.50 0a3.25 3.25 0 1 0 -6.50 0zM537.8 128.4a3.25 3.25 0 1 0 6.50 0a3.25 3.25 0 1 0 -6.50 0zM540.2 127.4a3.25 3.25 0 1 0 6.50 0a3.25 3.25 0 1 0 -6.50 0zM542.5 126.4a3.25 3.25 0 1 0 6.50 0a3.25 3.25 0 1 0 -6.50 0zM544.9 125.5a3.25 3.25 0 1 0 6.50 0a3.25 3.25 0 1 0 -6.50 0zM547.2 124.5a3.25 3.25 0 1 0 6.50 0a3.25 3.25 0 1 0 -6.50 0zM549.6 123.6a3.25 3.25 0 1 0 6.50 0a3.25 3.25 0 1 0 -6.50 0zM551.9 122.4a3.25 3.25 0 1 0 6.50 0a3.25 3.25 0 1 0 -6.50 0zM554.1 121.3a3.25 3.25 0 1 0 6.50 0a3.25 3.25 0 1 0 -6.50 0zM556.4 120.1a3.25 3.25 0 1 0 6.50 0a3.25 3.25 0 1 0 -6.50 0zM558.5 118.6a3.25 3.25 0 1 0 6.50 0a3.25 3.25 0 1 0 -6.50 0zM560.5 117.1a3.25 3.25 0 1 0 6.50 0a3.25 3.25 0 1 0 -6.50 0zM562.5 115.6a3.25 3.25 0 1 0 6.50 0a3.25 3.25 0 1 0 -6.50 0zM564.5 114.0a3.25 3.25 0 1 0 6.50 0a3.25 3.25 0 1 0 -6.50 0zM566.5 112.4a3.25 3.25 0 1 0 6.50 0a3.25 3.25 0 1 0 -6.50 0zM568.4 110.7a3.25 3.25 0 1 0 6.50 0a3.25 3.25 0 1 0 -6.50 0zM569.6 108.6a3.25 3.25 0 1 0 6.50 0a3.25 3.25 0 1 0 -6.50 0zM571.3 109.7a3.25 3.25 0 1 0 6.50 0a3.25 3.25 0 1 0 -6.50 0zM573.0 111.5a3.25 3.25 0 1 0 6.50 0a3.25 3.25 0 1 0 -6.50 0zM534.8 130.0a3.25 3.25 0 1 0 6.50 0a3.25 3.25 0 1 0 -6.50 0zM537.2 129.2a3.25 3.25 0 1 0 6.50 0a3.25 3.25 0 1 0 -6.50 0zM539.6 128.4a3.25 3.25 0 1 0 6.50 0a3.25 3.25 0 1 0 -6.50 0zM541.9 127.6a3.25 3.25 0 1 0 6.50 0a3.25 3.25 0 1 0 -6.50 0zM544.3 126.7a3.25 3.25 0 1 0 6.50 0a3.25 3.25 0 1 0 -6.50 0zM546.7 125.8a3.25 3.25 0 1 0 6.50 0a3.25 3.25 0 1 0 -6.50 0zM549.0 124.8a3.25 3.25 0 1 0 6.50 0a3.25 3.25 0 1 0 -6.50 0zM551.3 123.7a3.25 3.25 0 1 0 6.50 0a3.25 3.25 0 1 0 -6.50 0zM553.5 122.5a3.25 3.25 0 1 0 6.50 0a3.25 3.25 0 1 0 -6.50 0zM555.7 121.3a3.25 3.25 0 1 0 6.50 0a3.25 3.25 0 1 0 -6.50 0zM557.9 120.0a3.25 3.25 0 1 0 6.50 0a3.25 3.25 0 1 0 -6.50 0zM560.0 118.6a3.25 3.25 0 1 0 6.50 0a3.25 3.25 0 1 0 -6.50 0zM562.1 117.2a3.25 3.25 0 1 0 6.50 0a3.25 3.25 0 1 0 -6.50 0zM564.1 115.7a3.25 3.25 0 1 0 6.50 0a3.25 3.25 0 1 0 -6.50 0zM566.1 114.1a3.25 3.25 0 1 0 6.50 0a3.25 3.25 0 1 0 -6.50 0zM568.1 112.6a3.25 3.25 0 1 0 6.50 0a3.25 3.25 0 1 0 -6.50 0zM570.4 111.5a3.25 3.25 0 1 0 6.50 0a3.25 3.25 0 1 0 -6.50 0zM572.8 110.5a3.25 3.25 0 1 0 6.50 0a3.25 3.25 0 1 0 -6.50 0zM574.6 206.0a3.25 3.25 0 1 0 6.50 0a3.25 3.25 0 1 0 -6.50 0zM576.6 207.7a3.25 3.25 0 1 0 6.50 0a3.25 3.25 0 1 0 -6.50 0zM578.5 209.4a3.25 3.25 0 1 0 6.50 0a3.25 3.25 0 1 0 -6.50 0zM580.4 211.0a3.25 3.25 0 1 0 6.50 0a3.25 3.25 0 1 0 -6.50 0zM582.5 212.5a3.25 3.25 0 1 0 6.50 0a3.25 3.25 0 1 0 -6.50 0zM584.6 213.9a3.25 3.25 0 1 0 6.50 0a3.25 3.25 0 1 0 -6.50 0zM587.1 214.5a3.25 3.25 0 1 0 6.50 0a3.25 3.25 0 1 0 -6.50 0zM589.6 214.9a3.25 3.25 0 1 0 6.50 0a3.25 3.25 0 1 0 -6.50 0zM592.1 214.5a3.25 3.25 0 1 0 6.50 0a3.25 3.25 0 1 0 -6.50 0zM594.6 214.0a3.25 3.25 0 1 0 6.50 0a3.25 3.25 0 1 0 -6.50 0zM596.8 214.6a3.25 3.25 0 1 0 6.50 0a3.25 3.25 0 1 0 -6.50 0zM598.6 216.4a3.25 3.25 0 1 0 6.50 0a3.25 3.25 0 1 0 -6.50 0zM600.4 218.2a3.25 3.25 0 1 0 6.50 0a3.25 3.25 0 1 0 -6.50 0zM601.9 217.0a3.25 3.25 0 1 0 6.50 0a3.25 3.25 0 1 0 -6.50 0zM603.4 214.9a3.25 3.25 0 1 0 6.50 0a3.25 3.25 0 1 0 -6.50 0zM605.0 212.8a3.25 3.25 0 1 0 6.50 0a3.25 3.25 0 1 0 -6.50 0zM607.1 212.0a3.25 3.25 0 1 0 6.50 0a3.25 3.25 0 1 0 -6.50 0zM609.6 212.0a3.25 3.25 0 1 0 6.50 0a3.25 3.25 0 1 0 -6.50 0zM612.2 212.0a3.25 3.25 0 1 0 6.50 0a3.25 3.25 0 1 0 -6.50 0zM614.8 212.0a3.25 3.25 0 1 0 6.50 0a3.25 3.25 0 1 0 -6.50 0zM611.0 221.0a3.25 3.25 0 1 0 6.50 0a3.25 3.25 0 1 0 -6.50 0z" fill="#ffff00"/>
<path d="M102.8 186.4h6.3v6.3h-6.3zM103.7 186.5h6.3v6.3h-6.3zM104.5 186.5h6.3v6.3h-6.3zM105.3 186.6h6.3v6.3h-6.3zM106.1 186.6h6.3v6.3h-6.3zM106.9 186.6h6.3v6.3h-6.3zM107.7 186.7h6.3v6.3h-6.3zM108.5 186.7h6.3v6.3h-6.3zM109.3 186.8h6.3v6.3h-6.3zM110.1 186.8h6.3v6.3h-6.3zM110.9 186.8h6.3v6.3h-6.3zM111.7 186.9h6.3v6.3h-6.3zM112.5 186.9h6.3v6.3h-6.3zM113.3 186.9h6.3v6.3h-6.3zM114.1 186.9h6.3v6.3h-6.3zM114.9 187.0h6.3v6.3h-6.3zM115.7 187.0h6.3v6.3h-6.3zM116.5 187.0h6.3v6.3h-6.3zM117.3 187.1h6.3v6.3h-6.3zM118.1 187.1h6.3v6.3h-6.3zM118.9 187.1h6.3v6.3h-6.3zM119.7 187.2h6.3v6.3h-6.3zM120.5 187.2h6.3v6.3h-6.3zM121.3 187.2h6.3v6.3h-6.3zM122.1 187.3h6.3v6.3h-6.3zM122.9 187.3h6.3v6.3h-6.3zM123.7 187.3h6.3v6.3h-6.3zM124.5 187.4h6.3v6.3h-6.3zM125.3 187.4h6.3v6.3h-6.3zM126.1 187.5h6.3v6.3h-6.3zM126.9 187.5h6.3v6.3h-6.3zM127.7 187.6h6.3v6.3h-6.3zM128.5 187.6h6.3v6.3h-6.3zM129.3 187.7h6.3v6.3h-6.3zM130.1 187.7h6.3v6.3h-6.3zM130.9 187.8h6.3v6.3h-6.3zM131.7 187.8h6.3v6.3h-6.3zM132.5 187.9h6.3v6.3h-6.3zM133.3 187.9h6.3v6.3h-6.3zM134.1 188.0h6.3v6.3h-6.3zM134.9 188.0h6.3v6.3h-6.3zM135.7 188.1h6.3v6.3h-6.3zM136.5 188.1h6.3v6.3h-6.3zM137.3 188.2h6.3v6.3h-6.3zM138.1 188.3h6.3v6.3h-6.3zM138.9 188.3h6.3v6.3h-6.3zM139.7 188.4h6.3v6.3h-6.3zM140.5 188.4h6.3v6.3h-6.3zM141.3 188.5h6.3v6.3h-6.3zM142.1 188.5h6.3v6.3h-6.3zM142.9 188.6h6.3v6.3h-6.3zM143.7 188.6h6.3v6.3h-6.3zM144.5 188.7h6.3v6.3h-6.3zM145.3 188.7h6.3v6.3h-6.3zM146.1 188.8h6.3v6.3h-6.3zM146.9 188.8h6.3v6.3h-6.3zM147.7 188.9h6.3v6.3h-6.3zM148.5 188.9h6.3v6.3h-6.3zM149.3 189.0h6.3v6.3h-6.3zM150.1 189.0h6.3v6.3h-6.3zM150.9 189.1h6.3v6.3h-6.3zM151.7 189.2h6.3v6.3h-6.3zM152.5 189.2h6.3v6.3h-6.3zM153.3 189.3h6.3v6.3h-6.3zM154.1 189.3h6.3v6.3h-6.3zM154.9 189.4h6.3v6.3h-6.3zM155.7 189.5h6.3v6.3h-6.3zM156.5 189.5h6.3v6.3h-6.3zM157.3 189.6h6.3v6.3h-6.3zM158.1 189.7h6.3v6.3h-6.3zM158.9 189.8h6.3v6.3h-6.3zM159.7 189.8h6.3v6.3h-6.3zM160.5 189.9h6.3v6.3h-6.3zM161.3 190.0h6.3v6.3h-6.3zM162.1 190.1h6.3v6.3h-6.3zM162.9 190.2h6.3v6.3h-6.3zM163.7 190.3h6.3v6.3h-6.3zM164.5 190.3h6.3v6.3h-6.3zM165.3 190.4h6.3v6.3h-6.3zM166.1 190.5h6.3v6.3h-6.3zM166.9 190.7h6.3v6.3h-6.3zM167.7 190.8h6.3v6.3h-6.3zM168.5 190.9h6.3v6.3h-6.3zM169.3 191.0h6.3v6.3h-6.3zM170.0 191.2h6.3v6.3h-6.3zM170.8 191.3h6.3v6.3h-6.3zM171.6 191.5h6.3v6.3h-6.3zM172.4 191.7h6.3v6.3h-6.3zM173.2 191.8h6.3v6.3h-6.3zM174.0 192.0h6.3v6.3h-6.3zM174.8 192.1h6.3v6.3h-6.3zM175.6 192.3h6.3v6.3h-6.3zM176.3 192.4h6.3v6.3h-6.3zM177.1 192.6h6.3v6.3h-6.3zM177.9 192.7h6.3v6.3h-6.3zM178.7 192.9h6.3v6.3h-6.3zM179.5 193.1h6.3v6.3h-6.3zM180.3 193.3h6.3v6.3h-6.3zM181.0 193.4h6.3v6.3h-6.3zM181.8 193.7h6.3v6.3h-6.3zM182.6 193.9h6.3v6.3h-6.3zM183.4 194.1h6.3v6.3h-6.3zM184.1 194.3h6.3v6.3h-6.3zM184.9 194.6h6.3v6.3h-6.3zM185.7 194.8h6.3v6.3h-6.3zM186.4 195.1h6.3v6.3h-6.3zM187.2 195.3h6.3v6.3h-6.3zM187.9 195.6h6.3v6.3h-6.3zM188.7 195.9h6.3v6.3h-6.3zM189.4 196.2h6.3v6.3h-6.3zM190.2 196.4h6.3v6.3h-6.3zM190.9 196.7h6.3v6.3h-6.3zM191.7 197.0h6.3v6.3h-6.3zM192.4 197.4h6.3v6.3h-6.3zM193.2 197.7h6.3v6.3h-6.3zM193.9 198.0h6.3v6.3h-6.3zM194.6 198.3h6.3v6.3h-6.3zM195.4 198.6h6.3v6.3h-6.3zM196.1 199.0h6.3v6.3h-6.3zM196.8 199.3h6.3v6.3h-6.3zM197.5 199.6h6.3v6.3h-6.3zM198.3 200.0h6.3v6.3h-6.3zM199.0 200.3h6.3v6.3h-6.3zM199.7 200.7h6.3v6.3h-6.3zM200.4 201.0h6.3v6.3h-6.3zM201.2 201.4h6.3v6.3h-6.3zM201.9 201.7h6.3v6.3h-6.3zM202.6 202.1h6.3v6.3h-6.3zM203.3 202.5h6.3v6.3h-6.3zM204.0 202.8h6.3v6.3h-6.3zM204.7 203.2h6.3v6.3h-6.3zM205.4 203.6h6.3v6.3h-6.3zM206.1 204.0h6.3v6.3h-6.3zM206.8 204.4h6.3v6.3h-6.3zM207.5 204.9h6.3v6.3h-6.3zM208.1 205.3h6.3v6.3h-6.3zM208.8 205.8h6.3v6.3h-6.3zM209.4 206.2h6.3v6.3h-6.3zM210.1 206.7h6.3v6.3h-6.3zM210.8 207.1h6.3v6.3h-6.3zM211.5 207.5h6.3v6.3h-6.3zM212.2 207.9h6.3v6.3h-6.3zM212.9 208.3h6.3v6.3h-6.3zM213.6 208.7h6.3v6.3h-6.3zM214.3 209.1h6.3v6.3h-6.3zM215.0 209.5h6.3v6.3h-6.3zM215.7 209.9h6.3v6.3h-6.3zM216.4 210.3h6.3v6.3h-6.3zM217.1 210.7h6.3v6.3h-6.3zM217.8 211.1h6.3v6.3h-6.3zM218.5 211.5h6.3v6.3h-6.3zM219.1 211.9h6.3v6.3h-6.3zM219.8 212.3h6.3v6.3h-6.3zM220.5 212.7h6.3v6.3h-6.3zM221.2 213.1h6.3v6.3h-6.3zM221.9 213.5h6.3v6.3h-6.3zM222.6 214.0h6.3v6.3h-6.3zM223.3 214.4h6.3v6.3h-6.3zM224.0 214.8h6.3v6.3h-6.3zM224.6 215.2h6.3v6.3h-6.3zM225.3 215.6h6.3v6.3h-6.3zM226.0 216.1h6.3v6.3h-6.3zM226.7 216.5h6.3v6.3h-6.3zM227.4 216.9h6.3v6.3h-6.3zM228.1 217.3h6.3v6.3h-6.3zM228.7 217.7h6.3v6.3h-6.3zM229.4 218.2h6.3v6.3h-6.3zM230.1 218.6h6.3v6.3h-6.3zM230.8 219.0h6.3v6.3h-6.3zM231.5 219.4h6.3v6.3h-6.3zM232.2 219.8h6.3v6.3h-6.3zM232.8 220.3h6.3v6.3h-6.3zM233.5 220.7h6.3v6.3h-6.3zM234.2 221.1h6.3v6.3h-6.3zM234.9 221.6h6.3v6.3h-6.3zM235.6 222.0h6.3v6.3h-6.3zM236.2 222.4h6.3v6.3h-6.3zM236.9 222.8h6.3v6.3h-6.3zM237.6 223.3h6.3v6.3h-6.3zM238.3 223.7h6.3v6.3h-6.3zM238.9 224.1h6.3v6.3h-6.3zM239.6 224.6h6.3v6.3h-6.3zM240.3 225.0h6.3v6.3h-6.3zM241.0 225.4h6.3v6.3h-6.3zM241.6 225.9h6.3v6.3h-6.3zM242.3 226.3h6.3v6.3h-6.3zM243.0 226.8h6.3v6.3h-6.3zM243.6 227.2h6.3v6.3h-6.3zM244.3 227.7h6.3v6.3h-6.3zM245.0 228.1h6.3v6.3h-6.3zM245.6 228.6h6.3v6.3h-6.3zM246.3 229.0h6.3v6.3h-6.3zM246.9 229.5h6.3v6.3h-6.3zM247.6 229.9h6.3v6.3h-6.3zM248.3 230.4h6.3v6.3h-6.3zM248.9 230.9h6.3v6.3h-6.3zM249.6 231.3h6.3v6.3h-6.3zM250.2 231.8h6.3v6.3h-6.3zM250.9 232.3h6.3v6.3h-6.3zM251.5 232.7h6.3v6.3h-6.3zM252.2 233.2h6.3v6.3h-6.3zM252.8 233.7h6.3v6.3h-6.3zM253.5 234.1h6.3v6.3h-6.3zM254.1 234.6h6.3v6.3h-6.3zM254.8 235.1h6.3v6.3h-6.3zM255.4 235.5h6.3v6.3h-6.3zM256.1 236.0h6.3v6.3h-6.3zM256.7 236.5h6.3v6.3h-6.3zM257.4 237.0h6.3v6.3h-6.3zM258.0 237.4h6.3v6.3h-6.3zM258.7 237.9h6.3v6.3h-6.3zM259.3 238.4h6.3v6.3h-6.3zM259.9 238.9h6.3v6.3h-6.3zM260.6 239.4h6.3v6.3h-6.3zM261.2 239.9h6.3v6.3h-6.3zM261.9 240.3h6.3v6.3h-6.3zM252.8 68.3h6.3v6.3h-6.3zM253.4 68.9h6.3v6.3h-6.3zM254.0 69.5h6.3v6.3h-6.3zM254.5 70.0h6.3v6.3h-6.3zM255.1 70.6h6.3v6.3h-6.3zM255.7 71.2h6.3v6.3h-6.3zM256.2 71.7h6.3v6.3h-6.3zM256.8 72.3h6.3v6.3h-6.3zM257.4 72.9h6.3v6.3h-6.3zM257.9 73.4h6.3v6.3h-6.3zM258.5 74.0h6.3v6.3h-6.3zM259.1 74.6h6.3v6.3h-6.3zM259.6 75.1h6.3v6.3h-6.3zM260.2 75.7h6.3v6.3h-6.3zM260.8 76.3h6.3v6.3h-6.3zM261.3 76.8h6.3v6.3h-6.3zM261.9 77.4h6.3v6.3h-6.3zM262.4 78.0h6.3v6.3h-6.3zM263.0 78.6h6.3v6.3h-6.3zM263.5 79.2h6.3v6.3h-6.3zM264.1 79.8h6.3v6.3h-6.3zM264.6 80.4h6.3v6.3h-6.3zM265.1 80.9h6.3v6.3h-6.3zM265.7 81.5h6.3v6.3h-6.3zM266.2 82.1h6.3v6.3h-6.3zM266.8 82.7h6.3v6.3h-6.3zM267.3 83.3h6.3v6.3h-6.3zM267.9 83.8h6.3v6.3h-6.3zM268.4 84.4h6.3v6.3h-6.3zM269.0 85.0h6.3v6.3h-6.3zM269.6 85.6h6.3v6.3h-6.3zM270.1 86.1h6.3v6.3h-6.3zM270.7 86.7h6.3v6.3h-6.3zM271.3 87.2h6.3v6.3h-6.3zM271.9 87.8h6.3v6.3h-6.3zM272.5 88.3h6.3v6.3h-6.3zM273.0 88.9h6.3v6.3h-6.3zM273.6 89.4h6.3v6.3h-6.3zM274.2 89.9h6.3v6.3h-6.3zM274.8 90.5h6.3v6.3h-6.3zM275.4 91.0h6.3v6.3h-6.3zM276.0 91.6h6.3v6.3h-6.3zM276.6 92.1h6.3v6.3h-6.3zM277.2 92.6h6.3v6.3h-6.3zM277.8 93.1h6.3v6.3h-6.3zM278.4 93.7h6.3v6.3h-6.3zM279.0 94.2h6.3v6.3h-6.3zM279.6 94.8h6.3v6.3h-6.3zM280.2 95.3h6.3v6.3h-6.3zM280.8 95.9h6.3v6.3h-6.3zM281.3 96.4h6.3v6.3h-6.3zM281.9 97.0h6.3v6.3h-6.3zM282.5 97.5h6.3v6.3h-6.3zM283.1 98.1h6.3v6.3h-6.3zM283.6 98.6h6.3v6.3h-6.3zM284.2 99.2h6.3v6.3h-6.3zM284.8 99.7h6.3v6.3h-6.3zM285.4 100.3h6.3v6.3h-6.3zM286.0 100.8h6.3v6.3h-6.3zM286.5 101.4h6.3v6.3h-6.3zM287.1 101.9h6.3v6.3h-6.3zM287.7 102.5h6.3v6.3h-6.3zM288.3 103.0h6.3v6.3h-6.3zM288.9 103.6h6.3v6.3h-6.3zM289.4 104.1h6.3v6.3h-6.3zM290.0 104.7h6.3v6.3h-6.3zM290.6 105.2h6.3v6.3h-6.3zM291.2 105.8h6.3v6.3h-6.3zM291.8 106.3h6.3v6.3h-6.3zM292.4 106.8h6.3v6.3h-6.3zM293.0 107.4h6.3v6.3h-6.3zM293.6 107.9h6.3v6.3h-6.3zM294.2 108.4h6.3v6.3h-6.3zM294.8 109.0h6.3v6.3h-6.3zM295.4 109.5h6.3v6.3h-6.3zM296.0 110.0h6.3v6.3h-6.3zM296.6 110.5h6.3v6.3h-6.3zM297.2 111.0h6.3v6.3h-6.3zM297.8 111.5h6.3v6.3h-6.3zM298.5 112.0h6.3v6.3h-6.3zM299.1 112.6h6.3v6.3h-6.3zM299.7 113.1h6.3v6.3h-6.3zM300.3 113.6h6.3v6.3h-6.3zM301.0 114.1h6.3v6.3h-6.3zM301.6 114.6h6.3v6.3h-6.3zM302.2 115.0h6.3v6.3h-6.3zM302.8 115.5h6.3v6.3h-6.3zM303.5 116.0h6.3v6.3h-6.3zM304.1 116.5h6.3v6.3h-6.3zM304.7 117.0h6.3v6.3h-6.3zM305.4 117.5h6.3v6.3h-6.3zM306.0 118.0h6.3v6.3h-6.3zM306.7 118.4h6.3v6.3h-6.3zM307.3 118.9h6.3v6.3h-6.3zM307.9 119.4h6.3v6.3h-6.3zM308.6 119.9h6.3v6.3h-6.3zM309.2 120.4h6.3v6.3h-6.3zM309.9 120.8h6.3v6.3h-6.3zM310.5 121.3h6.3v6.3h-6.3zM311.2 121.8h6.3v6.3h-6.3zM311.8 122.2h6.3v6.3h-6.3zM312.5 122.7h6.3v6.3h-6.3zM313.1 123.1h6.3v6.3h-6.3zM313.8 123.6h6.3v6.3h-6.3zM314.5 124.0h6.3v6.3h-6.3zM315.1 124.5h6.3v6.3h-6.3zM315.8 124.9h6.3v6.3h-6.3zM316.5 125.3h6.3v6.3h-6.3zM317.2 125.7h6.3v6.3h-6.3zM317.9 126.2h6.3v6.3h-6.3zM318.5 126.6h6.3v6.3h-6.3zM319.2 127.0h6.3v6.3h-6.3zM319.9 127.3h6.3v6.3h-6.3zM320.6 127.7h6.3v6.3h-6.3zM321.3 128.1h6.3v6.3h-6.3zM322.0 128.5h6.3v6.3h-6.3zM322.8 128.9h6.3v6.3h-6.3zM323.5 129.2h6.3v6.3h-6.3zM324.2 129.6h6.3v6.3h-6.3zM324.9 129.9h6.3v6.3h-6.3zM325.6 130.2h6.3v6.3h-6.3zM326.4 130.6h6.3v6.3h-6.3zM327.1 130.9h6.3v6.3h-6.3zM327.8 131.2h6.3v6.3h-6.3zM328.6 131.5h6.3v6.3h-6.3zM329.3 131.8h6.3v6.3h-6.3zM330.1 132.1h6.3v6.3h-6.3zM330.8 132.4h6.3v6.3h-6.3zM331.5 132.7h6.3v6.3h-6.3zM332.3 133.0h6.3v6.3h-6.3zM333.0 133.3h6.3v6.3h-6.3zM333.8 133.6h6.3v6.3h-6.3zM334.5 133.9h6.3v6.3h-6.3zM335.3 134.2h6.3v6.3h-6.3zM336.0 134.4h6.3v6.3h-6.3zM336.8 134.7h6.3v6.3h-6.3zM337.5 135.0h6.3v6.3h-6.3zM338.3 135.3h6.3v6.3h-6.3zM339.0 135.5h6.3v6.3h-6.3zM339.8 135.8h6.3v6.3h-6.3zM340.5 136.1h6.3v6.3h-6.3zM341.3 136.3h6.3v6.3h-6.3zM342.0 136.6h6.3v6.3h-6.3zM342.8 136.9h6.3v6.3h-6.3zM343.6 137.1h6.3v6.3h-6.3zM344.3 137.4h6.3v6.3h-6.3zM345.1 137.7h6.3v6.3h-6.3zM345.8 138.0h6.3v6.3h-6.3zM346.6 138.2h6.3v6.3h-6.3zM347.3 138.5h6.3v6.3h-6.3zM348.1 138.8h6.3v6.3h-6.3zM348.8 139.1h6.3v6.3h-6.3zM349.6 139.4h6.3v6.3h-6.3zM350.3 139.6h6.3v6.3h-6.3zM351.1 139.9h6.3v6.3h-6.3zM351.8 140.2h6.3v6.3h-6.3zM352.5 140.5h6.3v6.3h-6.3zM353.3 140.8h6.3v6.3h-6.3zM354.0 141.1h6.3v6.3h-6.3zM354.8 141.4h6.3v6.3h-6.3zM355.5 141.7h6.3v6.3h-6.3zM356.3 142.0h6.3v6.3h-6.3zM357.0 142.3h6.3v6.3h-6.3zM357.7 142.6h6.3v6.3h-6.3zM358.5 142.9h6.3v6.3h-6.3zM359.2 143.2h6.3v6.3h-6.3zM360.0 143.5h6.3v6.3h-6.3zM360.7 143.8h6.3v6.3h-6.3zM361.5 144.1h6.3v6.3h-6.3zM362.2 144.4h6.3v6.3h-6.3zM362.9 144.7h6.3v6.3h-6.3zM363.7 145.0h6.3v6.3h-6.3zM364.4 145.3h6.3v6.3h-6.3zM365.1 145.6h6.3v6.3h-6.3zM365.9 146.0h6.3v6.3h-6.3zM366.6 146.3h6.3v6.3h-6.3zM367.3 146.6h6.3v6.3h-6.3zM368.0 147.0h6.3v6.3h-6.3zM368.8 147.3h6.3v6.3h-6.3zM369.5 147.7h6.3v6.3h-6.3zM370.2 148.1h6.3v6.3h-6.3zM370.9 148.4h6.3v6.3h-6.3zM371.6 148.8h6.3v6.3h-6.3zM372.3 149.2h6.3v6.3h-6.3zM373.0 149.6h6.3v6.3h-6.3zM373.7 149.9h6.3v6.3h-6.3zM374.4 150.3h6.3v6.3h-6.3zM375.1 150.7h6.3v6.3h-6.3zM375.8 151.1h6.3v6.3h-6.3zM376.5 151.5h6.3v6.3h-6.3zM377.2 151.9h6.3v6.3h-6.3zM377.9 152.3h6.3v6.3h-6.3zM378.6 152.8h6.3v6.3h-6.3zM379.2 153.2h6.3v6.3h-6.3zM379.9 153.6h6.3v6.3h-6.3zM380.5 154.1h6.3v6.3h-6.3zM381.1 154.6h6.3v6.3h-6.3zM381.7 155.2h6.3v6.3h-6.3zM382.2 155.8h6.3v6.3h-6.3zM382.7 156.4h6.3v6.3h-6.3zM383.2 157.1h6.3v6.3h-6.3zM383.7 157.7h6.3v6.3h-6.3zM384.1 158.4h6.3v6.3h-6.3zM384.5 159.1h6.3v6.3h-6.3zM385.0 159.7h6.3v6.3h-6.3zM385.4 160.4h6.3v6.3h-6.3zM385.8 161.1h6.3v6.3h-6.3zM386.2 161.8h6.3v6.3h-6.3zM386.6 162.5h6.3v6.3h-6.3zM387.0 163.2h6.3v6.3h-6.3zM387.4 163.9h6.3v6.3h-6.3zM387.8 164.6h6.3v6.3h-6.3zM388.1 165.3h6.3v6.3h-6.3zM388.5 166.0h6.3v6.3h-6.3zM388.8 166.8h6.3v6.3h-6.3zM389.1 167.5h6.3v6.3h-6.3zM389.5 168.2h6.3v6.3h-6.3zM389.8 169.0h6.3v6.3h-6.3zM390.1 169.7h6.3v6.3h-6.3zM390.4 170.4h6.3v6.3h-6.3zM390.7 171.2h6.3v6.3h-6.3zM391.0 171.9h6.3v6.3h-6.3zM391.3 172.7h6.3v6.3h-6.3zM391.5 173.4h6.3v6.3h-6.3zM391.8 174.2h6.3v6.3h-6.3zM392.1 174.9h6.3v6.3h-6.3zM392.4 175.7h6.3v6.3h-6.3zM392.7 176.4h6.3v6.3h-6.3zM392.9 177.2h6.3v6.3h-6.3zM393.2 177.9h6.3v6.3h-6.3zM393.5 178.7h6.3v6.3h-6.3zM393.8 179.4h6.3v6.3h-6.3zM394.0 180.2h6.3v6.3h-6.3zM394.3 180.9h6.3v6.3h-6.3zM394.6 181.7h6.3v6.3h-6.3zM394.8 182.4h6.3v6.3h-6.3zM395.1 183.2h6.3v6.3h-6.3zM395.4 183.9h6.3v6.3h-6.3zM395.7 184.7h6.3v6.3h-6.3zM395.9 185.4h6.3v6.3h-6.3zM396.2 186.2h6.3v6.3h-6.3zM396.5 186.9h6.3v6.3h-6.3zM396.8 187.7h6.3v6.3h-6.3zM397.0 188.4h6.3v6.3h-6.3zM397.3 189.2h6.3v6.3h-6.3zM397.6 189.9h6.3v6.3h-6.3zM397.9 190.7h6.3v6.3h-6.3zM398.2 191.4h6.3v6.3h-6.3zM398.5 192.2h6.3v6.3h-6.3zM398.8 192.9h6.3v6.3h-6.3zM399.1 193.6h6.3v6.3h-6.3zM399.4 194.4h6.3v6.3h-6.3zM399.7 195.1h6.3v6.3h-6.3zM400.1 195.8h6.3v6.3h-6.3zM400.4 196.6h6.3v6.3h-6.3zM400.8 197.3h6.3v6.3h-6.3zM401.1 198.0h6.3v6.3h-6.3zM401.5 198.7h6.3v6.3h-6.3zM401.8 199.4h6.3v6.3h-6.3zM402.2 200.1h6.3v6.3h-6.3zM402.6 200.8h6.3v6.3h-6.3zM403.0 201.5h6.3v6.3h-6.3zM403.4 202.2h6.3v6.3h-6.3zM403.8 202.9h6.3v6.3h-6.3zM404.2 203.6h6.3v6.3h-6.3zM404.7 204.3h6.3v6.3h-6.3zM405.1 204.9h6.3v6.3h-6.3zM405.6 205.6h6.3v6.3h-6.3zM406.1 206.2h6.3v6.3h-6.3zM406.6 206.8h6.3v6.3h-6.3zM407.1 207.5h6.3v6.3h-6.3zM407.6 208.1h6.3v6.3h-6.3zM408.1 208.6h6.3v6.3h-6.3zM408.7 209.2h6.3v6.3h-6.3zM409.3 209.8h6.3v6.3h-6.3zM409.9 210.3h6.3v6.3h-6.3zM410.5 210.8h6.3v6.3h-6.3zM411.1 211.3h6.3v6.3h-6.3zM411.7 211.8h6.3v6.3h-6.3zM412.3 212.3h6.3v6.3h-6.3zM413.0 212.8h6.3v6.3h-6.3zM413.6 213.3h6.3v6.3h-6.3zM414.3 213.8h6.3v6.3h-6.3zM414.9 214.2h6.3v6.3h-6.3zM415.6 214.6h6.3v6.3h-6.3zM416.3 215.0h6.3v6.3h-6.3zM417.0 215.4h6.3v6.3h-6.3zM417.7 215.8h6.3v6.3h-6.3zM418.4 216.2h6.3v6.3h-6.3zM419.1 216.5h6.3v6.3h-6.3zM419.9 216.8h6.3v6.3h-6.3zM420.6 217.1h6.3v6.3h-6.3zM421.4 217.4h6.3v6.3h-6.3zM422.1 217.7h6.3v6.3h-6.3zM422.8 218.0h6.3v6.3h-6.3zM423.6 218.4h6.3v6.3h-6.3zM424.3 218.7h6.3v6.3h-6.3zM425.0 219.1h6.3v6.3h-6.3zM425.7 219.4h6.3v6.3h-6.3zM426.5 219.7h6.3v6.3h-6.3zM427.2 220.0h6.3v6.3h-6.3zM428.0 220.2h6.3v6.3h-6.3zM428.8 220.4h6.3v6.3h-6.3zM429.5 220.6h6.3v6.3h-6.3zM430.3 220.8h6.3v6.3h-6.3zM431.1 221.0h6.3v6.3h-6.3zM431.9 221.1h6.3v6.3h-6.3zM432.7 221.3h6.3v6.3h-6.3zM433.5 221.4h6.3v6.3h-6.3zM434.2 221.5h6.3v6.3h-6.3zM435.0 221.6h6.3v6.3h-6.3zM435.8 221.7h6.3v6.3h-6.3zM436.6 221.8h6.3v6.3h-6.3zM437.4 221.8h6.3v6.3h-6.3zM438.2 221.9h6.3v6.3h-6.3zM439.0 222.0h6.3v6.3h-6.3zM439.8 222.0h6.3v6.3h-6.3zM440.6 222.1h6.3v6.3h-6.3zM441.4 222.1h6.3v6.3h-6.3zM442.2 222.2h6.3v6.3h-6.3zM443.0 222.2h6.3v6.3h-6.3zM443.8 222.2h6.3v6.3h-6.3zM444.6 222.3h6.3v6.3h-6.3zM445.4 222.3h6.3v6.3h-6.3zM446.2 222.4h6.3v6.3h-6.3zM447.0 222.4h6.3v6.3h-6.3zM447.8 222.4h6.3v6.3h-6.3zM448.6 222.5h6.3v6.3h-6.3zM449.4 222.5h6.3v6.3h-6.3zM450.2 222.5h6.3v6.3h-6.3zM451.0 222.5h6.3v6.3h-6.3zM451.8 222.5h6.3v6.3h-6.3zM452.6 222.6h6.3v6.3h-6.3zM453.4 222.6h6.3v6.3h-6.3zM454.2 222.6h6.3v6.3h-6.3zM455.0 222.6h6.3v6.3h-6.3zM455.8 222.6h6.3v6.3h-6.3zM456.6 222.7h6.3v6.3h-6.3zM457.4 222.7h6.3v6.3h-6.3zM458.2 222.7h6.3v6.3h-6.3zM459.0 222.7h6.3v6.3h-6.3zM459.8 222.7h6.3v6.3h-6.3zM460.6 222.8h6.3v6.3h-6.3zM461.4 222.8h6.3v6.3h-6.3zM462.2 222.8h6.3v6.3h-6.3zM463.0 222.8h6.3v6.3h-6.3zM463.8 222.8h6.3v6.3h-6.3zM464.6 222.8h6.3v6.3h-6.3zM465.4 222.8h6.3v6.3h-6.3zM466.2 222.8h6.3v6.3h-6.3zM467.0 222.8h6.3v6.3h-6.3zM467.8 222.8h6.3v6.3h-6.3zM468.6 222.8h6.3v6.3h-6.3zM469.4 222.8h6.3v6.3h-6.3zM470.2 222.8h6.3v6.3h-6.3zM471.0 222.8h6.3v6.3h-6.3zM471.8 222.8h6.3v6.3h-6.3zM472.6 222.8h6.3v6.3h-6.3zM473.4 222.8h6.3v6.3h-6.3zM474.2 222.8h6.3v6.3h-6.3zM475.0 222.8h6.3v6.3h-6.3zM475.8 222.7h6.3v6.3h-6.3zM476.6 222.7h6.3v6.3h-6.3zM477.4 222.7h6.3v6.3h-6.3zM478.2 222.7h6.3v6.3h-6.3zM479.0 222.6h6.3v6.3h-6.3zM479.8 222.6h6.3v6.3h-6.3zM480.6 222.6h6.3v6.3h-6.3zM481.4 222.6h6.3v6.3h-6.3zM482.2 222.5h6.3v6.3h-6.3zM483.0 222.5h6.3v6.3h-6.3zM483.8 222.4h6.3v6.3h-6.3zM484.6 222.4h6.3v6.3h-6.3zM485.4 222.3h6.3v6.3h-6.3zM486.2 222.2h6.3v6.3h-6.3zM487.0 222.1h6.3v6.3h-6.3zM487.8 222.0h6.3v6.3h-6.3zM488.6 221.9h6.3v6.3h-6.3zM489.3 221.7h6.3v6.3h-6.3zM490.1 221.5h6.3v6.3h-6.3zM490.9 221.2h6.3v6.3h-6.3zM491.6 221.0h6.3v6.3h-6.3zM492.4 220.7h6.3v6.3h-6.3zM493.1 220.3h6.3v6.3h-6.3zM493.8 219.9h6.3v6.3h-6.3zM494.4 219.5h6.3v6.3h-6.3zM495.1 219.0h6.3v6.3h-6.3zM495.7 218.4h6.3v6.3h-6.3zM496.2 217.8h6.3v6.3h-6.3zM496.7 217.2h6.3v6.3h-6.3zM497.2 216.5h6.3v6.3h-6.3zM497.6 215.9h6.3v6.3h-6.3zM497.9 215.2h6.3v6.3h-6.3zM498.3 214.4h6.3v6.3h-6.3zM498.6 213.7h6.3v6.3h-6.3zM498.8 212.9h6.3v6.3h-6.3zM499.1 212.2h6.3v6.3h-6.3zM499.3 211.4h6.3v6.3h-6.3zM499.5 210.6h6.3v6.3h-6.3zM499.7 209.9h6.3v6.3h-6.3zM499.9 209.1h6.3v6.3h-6.3zM500.1 208.3h6.3v6.3h-6.3zM500.2 207.5h6.3v6.3h-6.3zM500.4 206.7h6.3v6.3h-6.3zM500.5 205.9h6.3v6.3h-6.3zM500.6 205.1h6.3v6.3h-6.3zM500.7 204.4h6.3v6.3h-6.3zM500.8 203.6h6.3v6.3h-6.3zM500.9 202.8h6.3v6.3h-6.3zM501.0 202.0h6.3v6.3h-6.3zM501.1 201.2h6.3v6.3h-6.3zM501.2 200.4h6.3v6.3h-6.3zM501.3 199.6h6.3v6.3h-6.3zM501.3 198.8h6.3v6.3h-6.3zM501.4 198.0h6.3v6.3h-6.3zM501.5 197.2h6.3v6.3h-6.3zM501.5 196.4h6.3v6.3h-6.3zM501.6 195.6h6.3v6.3h-6.3zM502.8 166.8h6.3v6.3h-6.3zM502.9 166.0h6.3v6.3h-6.3zM502.9 165.2h6.3v6.3h-6.3zM503.0 164.4h6.3v6.3h-6.3zM503.1 163.6h6.3v6.3h-6.3zM503.2 162.8h6.3v6.3h-6.3zM503.3 162.0h6.3v6.3h-6.3zM503.4 161.3h6.3v6.3h-6.3zM503.5 160.5h6.3v6.3h-6.3zM503.7 159.7h6.3v6.3h-6.3zM503.9 158.9h6.3v6.3h-6.3zM504.1 158.1h6.3v6.3h-6.3zM504.4 157.4h6.3v6.3h-6.3zM504.7 156.6h6.3v6.3h-6.3zM505.0 155.9h6.3v6.3h-6.3zM505.4 155.2h6.3v6.3h-6.3zM505.8 154.5h6.3v6.3h-6.3zM506.2 153.8h6.3v6.3h-6.3zM506.7 153.2h6.3v6.3h-6.3zM507.3 152.7h6.3v6.3h-6.3zM507.9 152.1h6.3v6.3h-6.3zM508.5 151.7h6.3v6.3h-6.3zM509.2 151.2h6.3v6.3h-6.3zM509.9 150.8h6.3v6.3h-6.3zM510.6 150.5h6.3v6.3h-6.3zM511.4 150.2h6.3v6.3h-6.3zM512.1 150.0h6.3v6.3h-6.3zM512.9 149.7h6.3v6.3h-6.3zM513.7 149.5h6.3v6.3h-6.3zM514.4 149.3h6.3v6.3h-6.3zM515.2 149.1h6.3v6.3h-6.3zM516.0 148.9h6.3v6.3h-6.3zM516.8 148.8h6.3v6.3h-6.3zM517.6 148.6h6.3v6.3h-6.3zM518.4 148.5h6.3v6.3h-6.3zM519.1 148.3h6.3v6.3h-6.3zM519.9 148.2h6.3v6.3h-6.3zM520.7 148.1h6.3v6.3h-6.3zM521.5 148.0h6.3v6.3h-6.3zM522.3 147.9h6.3v6.3h-6.3zM523.1 147.8h6.3v6.3h-6.3zM523.9 147.7h6.3v6.3h-6.3zM524.7 147.7h6.3v6.3h-6.3zM525.5 147.6h6.3v6.3h-6.3zM526.3 147.5h6.3v6.3h-6.3zM527.1 147.4h6.3v6.3h-6.3zM527.9 147.3h6.3v6.3h-6.3zM528.7 147.3h6.3v6.3h-6.3zM529.5 147.2h6.3v6.3h-6.3zM530.3 147.1h6.3v6.3h-6.3zM531.1 147.0h6.3v6.3h-6.3zM531.9 146.9h6.3v6.3h-6.3zM532.7 146.8h6.3v6.3h-6.3zM533.5 146.7h6.3v6.3h-6.3zM534.2 146.6h6.3v6.3h-6.3zM535.0 146.5h6.3v6.3h-6.3zM535.8 146.5h6.3v6.3h-6.3zM536.6 146.4h6.3v6.3h-6.3zM537.4 146.2h6.3v6.3h-6.3zM538.2 146.1h6.3v6.3h-6.3zM539.0 146.0h6.3v6.3h-6.3zM539.8 145.9h6.3v6.3h-6.3zM540.6 145.8h6.3v6.3h-6.3zM541.4 145.7h6.3v6.3h-6.3zM542.2 145.6h6.3v6.3h-6.3zM543.0 145.5h6.3v6.3h-6.3zM543.8 145.4h6.3v6.3h-6.3zM544.6 145.2h6.3v6.3h-6.3zM545.3 145.1h6.3v6.3h-6.3zM546.1 145.0h6.3v6.3h-6.3zM546.9 144.9h6.3v6.3h-6.3zM547.7 144.8h6.3v6.3h-6.3zM548.5 144.6h6.3v6.3h-6.3zM549.3 144.5h6.3v6.3h-6.3zM550.1 144.4h6.3v6.3h-6.3zM550.9 144.3h6.3v6.3h-6.3zM551.7 144.1h6.3v6.3h-6.3zM552.5 144.0h6.3v6.3h-6.3zM553.2 143.9h6.3v6.3h-6.3zM554.0 143.7h6.3v6.3h-6.3zM554.8 143.6h6.3v6.3h-6.3zM555.6 143.5h6.3v6.3h-6.3zM556.4 143.3h6.3v6.3h-6.3zM557.2 143.2h6.3v6.3h-6.3zM558.0 143.1h6.3v6.3h-6.3zM558.8 142.9h6.3v6.3h-6.3zM559.6 142.8h6.3v6.3h-6.3zM560.3 142.7h6.3v6.3h-6.3zM561.1 142.5h6.3v6.3h-6.3zM561.9 142.4h6.3v6.3h-6.3zM562.7 142.3h6.3v6.3h-6.3zM563.5 142.1h6.3v6.3h-6.3zM564.3 142.0h6.3v6.3h-6.3zM565.1 141.8h6.3v6.3h-6.3zM565.9 141.7h6.3v6.3h-6.3zM566.6 141.5h6.3v6.3h-6.3zM567.4 141.3h6.3v6.3h-6.3zM568.2 141.2h6.3v6.3h-6.3zM569.0 141.0h6.3v6.3h-6.3zM569.8 140.8h6.3v6.3h-6.3zM570.5 140.6h6.3v6.3h-6.3zM571.3 140.4h6.3v6.3h-6.3zM572.1 140.2h6.3v6.3h-6.3zM572.8 140.0h6.3v6.3h-6.3zM573.6 139.7h6.3v6.3h-6.3zM574.4 139.5h6.3v6.3h-6.3zM575.1 139.2h6.3v6.3h-6.3zM575.8 138.9h6.3v6.3h-6.3zM576.6 138.5h6.3v6.3h-6.3zM577.3 138.2h6.3v6.3h-6.3zM578.0 137.9h6.3v6.3h-6.3zM578.7 137.5h6.3v6.3h-6.3zM579.4 137.1h6.3v6.3h-6.3zM580.1 136.7h6.3v6.3h-6.3zM580.8 136.3h6.3v6.3h-6.3zM581.5 135.9h6.3v6.3h-6.3zM582.2 135.5h6.3v6.3h-6.3zM582.9 135.1h6.3v6.3h-6.3zM583.5 134.6h6.3v6.3h-6.3zM584.2 134.2h6.3v6.3h-6.3zM584.8 133.7h6.3v6.3h-6.3zM585.4 133.2h6.3v6.3h-6.3zM586.1 132.6h6.3v6.3h-6.3zM586.6 132.1h6.3v6.3h-6.3zM587.2 131.5h6.3v6.3h-6.3zM587.8 131.0h6.3v6.3h-6.3zM588.3 130.4h6.3v6.3h-6.3zM588.9 129.8h6.3v6.3h-6.3zM589.4 129.2h6.3v6.3h-6.3zM589.9 128.6h6.3v6.3h-6.3zM590.5 128.0h6.3v6.3h-6.3zM591.0 127.4h6.3v6.3h-6.3zM591.4 126.7h6.3v6.3h-6.3zM591.9 126.1h6.3v6.3h-6.3zM592.4 125.4h6.3v6.3h-6.3zM592.8 124.8h6.3v6.3h-6.3zM593.3 124.1h6.3v6.3h-6.3zM593.7 123.4h6.3v6.3h-6.3zM594.1 122.8h6.3v6.3h-6.3zM594.6 122.1h6.3v6.3h-6.3zM595.0 121.4h6.3v6.3h-6.3zM595.4 120.7h6.3v6.3h-6.3zM595.8 120.0h6.3v6.3h-6.3zM596.1 119.3h6.3v6.3h-6.3zM596.5 118.6h6.3v6.3h-6.3zM596.8 117.9h6.3v6.3h-6.3zM597.1 117.1h6.3v6.3h-6.3zM597.4 116.4h6.3v6.3h-6.3zM597.7 115.6h6.3v6.3h-6.3zM597.9 114.9h6.3v6.3h-6.3zM598.2 114.1h6.3v6.3h-6.3zM598.4 113.3h6.3v6.3h-6.3zM598.7 112.6h6.3v6.3h-6.3zM599.0 111.8h6.3v6.3h-6.3zM599.3 111.1h6.3v6.3h-6.3zM599.6 110.3h6.3v6.3h-6.3zM599.9 109.6h6.3v6.3h-6.3zM600.2 108.9h6.3v6.3h-6.3zM600.5 108.2h6.3v6.3h-6.3zM600.9 107.4h6.3v6.3h-6.3zM601.2 106.7h6.3v6.3h-6.3zM601.6 106.0h6.3v6.3h-6.3zM601.9 105.3h6.3v6.3h-6.3zM602.2 104.5h6.3v6.3h-6.3zM602.5 103.8h6.3v6.3h-6.3zM602.8 103.0h6.3v6.3h-6.3zM603.1 102.3h6.3v6.3h-6.3zM603.4 101.5h6.3v6.3h-6.3zM603.7 100.8h6.3v6.3h-6.3zM604.0 100.1h6.3v6.3h-6.3zM604.3 99.3h6.3v6.3h-6.3zM604.6 98.6h6.3v6.3h-6.3zM604.9 97.8h6.3v6.3h-6.3zM605.2 97.1h6.3v6.3h-6.3zM605.5 96.3h6.3v6.3h-6.3zM605.8 95.6h6.3v6.3h-6.3zM606.0 94.9h6.3v6.3h-6.3zM606.3 94.1h6.3v6.3h-6.3zM606.6 93.4h6.3v6.3h-6.3zM606.9 92.6h6.3v6.3h-6.3zM607.1 91.8h6.3v6.3h-6.3zM607.4 91.1h6.3v6.3h-6.3zM607.7 90.3h6.3v6.3h-6.3zM607.9 89.6h6.3v6.3h-6.3zM608.2 88.8h6.3v6.3h-6.3zM608.5 88.1h6.3v6.3h-6.3zM608.8 87.3h6.3v6.3h-6.3zM609.0 86.6h6.3v6.3h-6.3zM609.3 85.8h6.3v6.3h-6.3zM609.6 85.1h6.3v6.3h-6.3zM609.8 84.3h6.3v6.3h-6.3zM610.1 83.6h6.3v6.3h-6.3zM610.4 82.8h6.3v6.3h-6.3zM610.7 82.1h6.3v6.3h-6.3zM610.9 81.3h6.3v6.3h-6.3zM611.1 80.5h6.3v6.3h-6.3zM611.4 79.8h6.3v6.3h-6.3zM611.6 79.0h6.3v6.3h-6.3zM611.7 78.2h6.3v6.3h-6.3zM611.9 77.4h6.3v6.3h-6.3zM612.1 76.7h6.3v6.3h-6.3zM612.3 75.9h6.3v6.3h-6.3zM612.4 75.1h6.3v6.3h-6.3zM612.6 74.3h6.3v6.3h-6.3zM612.7 73.5h6.3v6.3h-6.3zM612.9 72.7h6.3v6.3h-6.3zM613.1 72.0h6.3v6.3h-6.3zM613.3 71.2h6.3v6.3h-6.3zM613.5 70.4h6.3v6.3h-6.3zM613.7 69.6h6.3v6.3h-6.3zM613.9 68.8h6.3v6.3h-6.3zM502.3 173.7h6v6h-6zM502.3 181.1h6v6h-6zM502.3 188.5h6v6h-6zM110.5 236.0h4v4h-4z" fill="#00ffff"/>
</g>
<rect x="110.5" y="78.5" width="506.0" height="161.5" fill="none" stroke="#000" stroke-width="1.5"/>
<path d="M104.8 240.0H110.5M104.8 199.4H110.5M104.8 159.0H110.5M104.8 118.8H110.5M110.5 240.0V245.8M211.5 240.0V245.8M312.7 240.0V245.8M414.0 240.0V245.8M515.2 240.0V245.8" stroke="#000" stroke-width="1.5"/>
<path d="M86.3 104.9V123.6M80.9 117.6C83.2 119.4 84.9 121.4 86.3 124.2C87.7 121.4 89.4 119.4 91.7 117.6M71.2 159.6H89.6M75.6 154.6C74.4 156.8 72.8 158.4 70.6 159.6C72.8 160.8 74.4 162.4 75.6 164.6M85.8 206.0V187.8M80.8 193.4C83.0 191.6 84.5 189.6 85.8 186.9C87.1 189.6 88.6 191.6 90.8 193.4M70.8 240.5H89.8M85.6 235.6C86.8 237.8 88.2 239.3 90.4 240.5C88.2 241.7 86.8 243.2 85.6 245.4" fill="none" stroke="#000" stroke-width="1.15"/>
<text x="26.42" y="123.80" font-size="20.50">3</text>
<text x="38.29" y="123.80" font-size="20.50" font-style="italic">π</text>
<text x="47.70" y="123.80" font-size="20.50">/</text>
<text x="54.50" y="123.80" font-size="20.50" transform="translate(-8.23 0) scale(1.15 1)">2</text>
<text x="72.90" y="123.80" font-size="20.50">(</text>
<text x="92.97" y="123.80" font-size="20.50">)</text>
<text x="46.19" y="164.00" font-size="20.50" font-style="italic">π</text>
<text x="62.30" y="164.00" font-size="20.50">(</text>
<text x="91.27" y="164.00" font-size="20.50">)</text>
<text x="38.89" y="205.30" font-size="20.50" font-style="italic">π</text>
<text x="48.80" y="205.30" font-size="20.50">/</text>
<text x="55.50" y="205.30" font-size="20.50" transform="translate(-8.38 0) scale(1.15 1)">2</text>
<text x="72.50" y="205.30" font-size="20.50">(</text>
<text x="92.27" y="205.30" font-size="20.50">)</text>
<text x="45.72" y="246.80" font-size="20.50" transform="translate(-3.68 0) scale(1.08 1)">0</text>
<text x="62.60" y="246.80" font-size="20.50">(</text>
<text x="91.57" y="246.80" font-size="20.50">)</text>
<text x="2.40" y="183.10" font-size="20.50" font-style="italic" transform="translate(-0.20 0) scale(1.06 1)">θ</text>
<text x="110.5" y="268.9" font-size="20.50" text-anchor="middle">0</text>
<text x="211.5" y="268.9" font-size="20.50" text-anchor="middle">10</text>
<text x="312.7" y="268.9" font-size="20.50" text-anchor="middle">20</text>
<text x="414.0" y="268.9" font-size="20.50" text-anchor="middle">30</text>
<text x="515.2" y="268.9" font-size="20.50" text-anchor="middle">40</text>
<text x="360.00" y="289.00" font-size="20.50" font-style="italic">t</text>
<text x="314.61" y="56.20" font-size="20.50" font-style="italic">P</text>
<text x="327.32" y="63.10" font-size="15.00" font-style="italic">S</text>
<text x="335.92" y="56.20" font-size="20.50" font-style="italic">H</text>
<text x="351.32" y="63.10" font-size="15.00" font-style="italic">S</text>
<text x="384.93" y="47.80" font-size="15.50" font-style="italic">d</text>
<text x="392.95" y="47.80" font-size="15.50" font-style="italic">A</text>
<text x="405.95" y="52.80" font-size="12.40" font-style="italic">S</text>
<text x="391.24" y="69.90" font-size="15.50">d</text>
<text x="400.42" y="69.90" font-size="15.50" font-style="italic">t</text>
<path d="M377.7 48.3C374.5 48.1 373.2 49.3 371.3 50.9C369.5 52.5 368.6 53.7 367.3 53.7C365.6 53.7 364.6 52.4 364.6 50.9C364.6 49.4 365.6 48.1 367.3 48.1C368.6 48.1 369.5 49.3 371.3 50.9C373.2 52.5 374.5 53.7 377.7 53.6" fill="none" stroke="#000" stroke-width="1.1"/>
<rect x="385.4" y="55.2" width="27.2" height="1.1"/>
<rect x="424.0" y="6.1" width="183.9" height="66.5" rx="3.5" fill="#bbbbbb" stroke="#555" stroke-width="1.4"/>
<circle cx="447.4" cy="20.6" r="2.7" fill="#ffff00"/>
<rect x="444.8" y="50.5" width="5.1" height="5.1" fill="#00ffff"/>
<text x="460.00" y="25.60" font-size="20.50" font-style="italic">θ</text>
<text x="475.82" y="25.60" font-size="20.50">of</text>
<text x="500.77" y="25.60" font-size="20.50">max</text>
<text x="543.93" y="25.80" font-size="19.80">(</text>
<text x="552.41" y="25.60" font-size="20.50" font-style="italic">P</text>
<text x="565.24" y="32.70" font-size="14.00" font-style="italic">S</text>
<text x="573.62" y="25.60" font-size="20.50" font-style="italic">H</text>
<text x="589.74" y="32.70" font-size="14.00" font-style="italic">S</text>
<text x="597.88" y="25.80" font-size="19.80">)</text>
<text x="461.40" y="59.00" font-size="20.50">tan</text>
<text x="487.00" y="54.50" font-size="16.00">−</text>
<text x="496.13" y="50.80" font-size="13.30">1</text>
<text x="508.58" y="58.50" font-size="25.40">(</text>
<text x="533.36" y="58.50" font-size="25.40">)</text>
<text x="516.60" y="51.60" font-size="10.00" font-style="italic">d</text>
<text x="522.69" y="51.60" font-size="10.00" font-weight="bold">q</text>
<text x="518.74" y="64.70" font-size="10.00">d</text>
<text x="524.46" y="64.70" font-size="10.00" font-style="italic">t</text>
<rect x="516.6" y="53.7" width="14.9" height="0.9"/>
</svg>
</body></html>
